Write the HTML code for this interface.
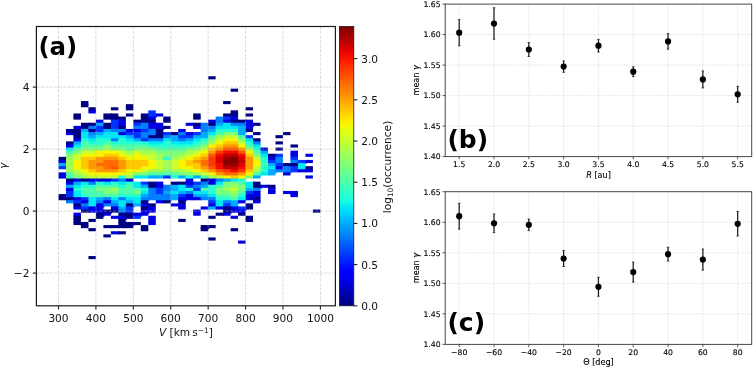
<!DOCTYPE html>
<html><head><meta charset="utf-8"><title>figure</title>
<style>html,body{margin:0;padding:0;background:#fff}body{width:753px;height:368px;overflow:hidden}</style></head>
<body>
<svg width="753" height="368" viewBox="0 0 753 368" style="display:block">
<defs>
<linearGradient id="jet" x1="0" y1="0" x2="0" y2="1"><stop offset="0.000" stop-color="#800000"/><stop offset="0.025" stop-color="#9b0000"/><stop offset="0.050" stop-color="#b60000"/><stop offset="0.075" stop-color="#d60000"/><stop offset="0.100" stop-color="#f10800"/><stop offset="0.125" stop-color="#ff1e00"/><stop offset="0.150" stop-color="#ff3800"/><stop offset="0.175" stop-color="#ff4e00"/><stop offset="0.200" stop-color="#ff6800"/><stop offset="0.225" stop-color="#ff7e00"/><stop offset="0.250" stop-color="#ff9400"/><stop offset="0.275" stop-color="#ffae00"/><stop offset="0.300" stop-color="#ffc400"/><stop offset="0.325" stop-color="#ffde00"/><stop offset="0.350" stop-color="#f8f500"/><stop offset="0.375" stop-color="#e4ff13"/><stop offset="0.400" stop-color="#ceff29"/><stop offset="0.425" stop-color="#baff3c"/><stop offset="0.450" stop-color="#a4ff53"/><stop offset="0.475" stop-color="#90ff66"/><stop offset="0.500" stop-color="#7dff7a"/><stop offset="0.525" stop-color="#66ff90"/><stop offset="0.550" stop-color="#53ffa4"/><stop offset="0.575" stop-color="#3cffba"/><stop offset="0.600" stop-color="#29ffce"/><stop offset="0.625" stop-color="#16ffe1"/><stop offset="0.650" stop-color="#00e4f8"/><stop offset="0.675" stop-color="#00ccff"/><stop offset="0.700" stop-color="#00b0ff"/><stop offset="0.725" stop-color="#0098ff"/><stop offset="0.750" stop-color="#0080ff"/><stop offset="0.775" stop-color="#0064ff"/><stop offset="0.800" stop-color="#004cff"/><stop offset="0.825" stop-color="#0030ff"/><stop offset="0.850" stop-color="#0018ff"/><stop offset="0.875" stop-color="#0000ff"/><stop offset="0.900" stop-color="#0000f1"/><stop offset="0.925" stop-color="#0000d6"/><stop offset="0.950" stop-color="#0000b6"/><stop offset="0.975" stop-color="#00009b"/><stop offset="1.000" stop-color="#000080"/></linearGradient>
<filter id="bl" x="-2%" y="-2%" width="104%" height="104%"><feGaussianBlur stdDeviation="0.45"/></filter>
</defs>
<rect width="753" height="368" fill="#fff"/>
<g filter="url(#bl)">
<rect x="208.16" y="76.25" width="7.48" height="3.10" fill="#000080"/>
<rect x="230.60" y="88.65" width="7.48" height="3.10" fill="#000080"/>
<rect x="80.95" y="101.05" width="7.48" height="4.10" fill="#000080"/>
<rect x="223.12" y="101.05" width="7.48" height="3.10" fill="#000080"/>
<rect x="80.95" y="104.15" width="7.48" height="3.10" fill="#000080"/>
<rect x="125.85" y="104.15" width="7.48" height="4.10" fill="#000080"/>
<rect x="88.43" y="107.25" width="7.48" height="4.10" fill="#000080"/>
<rect x="110.88" y="107.25" width="7.48" height="3.10" fill="#000080"/>
<rect x="125.85" y="107.25" width="7.48" height="3.10" fill="#000080"/>
<rect x="245.57" y="107.25" width="7.48" height="3.10" fill="#000080"/>
<rect x="88.43" y="110.35" width="7.48" height="3.10" fill="#0000e3"/>
<rect x="148.29" y="110.35" width="7.48" height="4.10" fill="#0034ff"/>
<rect x="230.60" y="110.35" width="7.48" height="4.10" fill="#000080"/>
<rect x="73.47" y="113.45" width="7.48" height="4.10" fill="#000080"/>
<rect x="103.40" y="113.45" width="8.48" height="4.10" fill="#000080"/>
<rect x="110.88" y="113.45" width="7.48" height="4.10" fill="#000080"/>
<rect x="125.85" y="113.45" width="7.48" height="3.10" fill="#000080"/>
<rect x="140.81" y="113.45" width="8.48" height="4.10" fill="#000080"/>
<rect x="148.29" y="113.45" width="8.48" height="4.10" fill="#0034ff"/>
<rect x="155.78" y="113.45" width="7.48" height="3.10" fill="#0000e3"/>
<rect x="193.19" y="113.45" width="7.48" height="4.10" fill="#000080"/>
<rect x="223.12" y="113.45" width="8.48" height="4.10" fill="#000080"/>
<rect x="230.60" y="113.45" width="7.48" height="4.10" fill="#000080"/>
<rect x="245.57" y="113.45" width="7.48" height="3.10" fill="#000080"/>
<rect x="73.47" y="116.55" width="7.48" height="3.10" fill="#000080"/>
<rect x="103.40" y="116.55" width="8.48" height="3.10" fill="#000080"/>
<rect x="110.88" y="116.55" width="8.48" height="4.10" fill="#000080"/>
<rect x="118.36" y="116.55" width="7.48" height="4.10" fill="#000080"/>
<rect x="140.81" y="116.55" width="8.48" height="4.10" fill="#000080"/>
<rect x="148.29" y="116.55" width="7.48" height="4.10" fill="#0000e3"/>
<rect x="163.26" y="116.55" width="7.48" height="4.10" fill="#000080"/>
<rect x="193.19" y="116.55" width="7.48" height="3.10" fill="#000080"/>
<rect x="215.64" y="116.55" width="8.48" height="4.10" fill="#0080ff"/>
<rect x="223.12" y="116.55" width="8.48" height="4.10" fill="#0034ff"/>
<rect x="230.60" y="116.55" width="7.48" height="4.10" fill="#0000e3"/>
<rect x="95.91" y="119.65" width="7.48" height="4.10" fill="#0000e3"/>
<rect x="110.88" y="119.65" width="8.48" height="4.10" fill="#0034ff"/>
<rect x="118.36" y="119.65" width="7.48" height="4.10" fill="#0000e3"/>
<rect x="133.33" y="119.65" width="8.48" height="4.10" fill="#000080"/>
<rect x="140.81" y="119.65" width="8.48" height="4.10" fill="#000080"/>
<rect x="148.29" y="119.65" width="7.48" height="4.10" fill="#000080"/>
<rect x="163.26" y="119.65" width="7.48" height="3.10" fill="#000080"/>
<rect x="208.16" y="119.65" width="8.48" height="4.10" fill="#0000e3"/>
<rect x="215.64" y="119.65" width="8.48" height="4.10" fill="#0080ff"/>
<rect x="223.12" y="119.65" width="8.48" height="4.10" fill="#0000e3"/>
<rect x="230.60" y="119.65" width="8.48" height="4.10" fill="#000080"/>
<rect x="238.09" y="119.65" width="8.48" height="4.10" fill="#000080"/>
<rect x="245.57" y="119.65" width="7.48" height="4.10" fill="#0000e3"/>
<rect x="80.95" y="122.75" width="8.48" height="4.10" fill="#000080"/>
<rect x="88.43" y="122.75" width="8.48" height="4.10" fill="#000080"/>
<rect x="95.91" y="122.75" width="8.48" height="4.10" fill="#00acff"/>
<rect x="103.40" y="122.75" width="8.48" height="4.10" fill="#000080"/>
<rect x="110.88" y="122.75" width="8.48" height="4.10" fill="#0034ff"/>
<rect x="118.36" y="122.75" width="7.48" height="4.10" fill="#0000e3"/>
<rect x="133.33" y="122.75" width="8.48" height="4.10" fill="#0034ff"/>
<rect x="140.81" y="122.75" width="8.48" height="4.10" fill="#0080ff"/>
<rect x="148.29" y="122.75" width="8.48" height="4.10" fill="#0000e3"/>
<rect x="155.78" y="122.75" width="7.48" height="4.10" fill="#0000e3"/>
<rect x="185.71" y="122.75" width="8.48" height="3.10" fill="#0000e3"/>
<rect x="193.19" y="122.75" width="8.48" height="4.10" fill="#000080"/>
<rect x="200.67" y="122.75" width="8.48" height="4.10" fill="#0080ff"/>
<rect x="208.16" y="122.75" width="8.48" height="4.10" fill="#000080"/>
<rect x="215.64" y="122.75" width="8.48" height="4.10" fill="#00acff"/>
<rect x="223.12" y="122.75" width="8.48" height="4.10" fill="#02e8f4"/>
<rect x="230.60" y="122.75" width="8.48" height="4.10" fill="#0080ff"/>
<rect x="238.09" y="122.75" width="8.48" height="4.10" fill="#0080ff"/>
<rect x="245.57" y="122.75" width="8.48" height="4.10" fill="#0000e3"/>
<rect x="253.05" y="122.75" width="7.48" height="3.10" fill="#000080"/>
<rect x="73.47" y="125.85" width="8.48" height="4.10" fill="#0000e3"/>
<rect x="80.95" y="125.85" width="8.48" height="4.10" fill="#000080"/>
<rect x="88.43" y="125.85" width="8.48" height="4.10" fill="#0080ff"/>
<rect x="95.91" y="125.85" width="8.48" height="4.10" fill="#0034ff"/>
<rect x="103.40" y="125.85" width="8.48" height="4.10" fill="#000080"/>
<rect x="110.88" y="125.85" width="8.48" height="4.10" fill="#0034ff"/>
<rect x="118.36" y="125.85" width="7.48" height="4.10" fill="#000080"/>
<rect x="133.33" y="125.85" width="8.48" height="4.10" fill="#0080ff"/>
<rect x="140.81" y="125.85" width="8.48" height="4.10" fill="#0080ff"/>
<rect x="148.29" y="125.85" width="8.48" height="4.10" fill="#0000e3"/>
<rect x="155.78" y="125.85" width="8.48" height="4.10" fill="#0000e3"/>
<rect x="163.26" y="125.85" width="7.48" height="3.10" fill="#000080"/>
<rect x="193.19" y="125.85" width="8.48" height="3.10" fill="#0000e3"/>
<rect x="200.67" y="125.85" width="8.48" height="4.10" fill="#0080ff"/>
<rect x="208.16" y="125.85" width="8.48" height="4.10" fill="#0080ff"/>
<rect x="215.64" y="125.85" width="8.48" height="4.10" fill="#02e8f4"/>
<rect x="223.12" y="125.85" width="8.48" height="4.10" fill="#02e8f4"/>
<rect x="230.60" y="125.85" width="8.48" height="4.10" fill="#02e8f4"/>
<rect x="238.09" y="125.85" width="8.48" height="4.10" fill="#00acff"/>
<rect x="245.57" y="125.85" width="7.48" height="4.10" fill="#0000e3"/>
<rect x="65.98" y="128.95" width="8.48" height="4.10" fill="#000080"/>
<rect x="73.47" y="128.95" width="8.48" height="4.10" fill="#000080"/>
<rect x="80.95" y="128.95" width="8.48" height="4.10" fill="#00acff"/>
<rect x="88.43" y="128.95" width="8.48" height="4.10" fill="#000080"/>
<rect x="95.91" y="128.95" width="8.48" height="4.10" fill="#0034ff"/>
<rect x="103.40" y="128.95" width="8.48" height="4.10" fill="#00acff"/>
<rect x="110.88" y="128.95" width="8.48" height="4.10" fill="#0080ff"/>
<rect x="118.36" y="128.95" width="8.48" height="4.10" fill="#0080ff"/>
<rect x="125.85" y="128.95" width="8.48" height="4.10" fill="#0000e3"/>
<rect x="133.33" y="128.95" width="8.48" height="4.10" fill="#0000e3"/>
<rect x="140.81" y="128.95" width="8.48" height="4.10" fill="#0034ff"/>
<rect x="148.29" y="128.95" width="8.48" height="4.10" fill="#0080ff"/>
<rect x="155.78" y="128.95" width="7.48" height="4.10" fill="#000080"/>
<rect x="178.22" y="128.95" width="7.48" height="4.10" fill="#0000e3"/>
<rect x="200.67" y="128.95" width="8.48" height="4.10" fill="#0080ff"/>
<rect x="208.16" y="128.95" width="8.48" height="4.10" fill="#00acff"/>
<rect x="215.64" y="128.95" width="8.48" height="4.10" fill="#26ffd1"/>
<rect x="223.12" y="128.95" width="8.48" height="4.10" fill="#26ffd1"/>
<rect x="230.60" y="128.95" width="8.48" height="4.10" fill="#26ffd1"/>
<rect x="238.09" y="128.95" width="8.48" height="4.10" fill="#00acff"/>
<rect x="245.57" y="128.95" width="7.48" height="3.10" fill="#000080"/>
<rect x="65.98" y="132.05" width="8.48" height="3.10" fill="#0000e3"/>
<rect x="73.47" y="132.05" width="8.48" height="4.10" fill="#000080"/>
<rect x="80.95" y="132.05" width="8.48" height="4.10" fill="#02e8f4"/>
<rect x="88.43" y="132.05" width="8.48" height="4.10" fill="#0080ff"/>
<rect x="95.91" y="132.05" width="8.48" height="4.10" fill="#00acff"/>
<rect x="103.40" y="132.05" width="8.48" height="4.10" fill="#02e8f4"/>
<rect x="110.88" y="132.05" width="8.48" height="4.10" fill="#02e8f4"/>
<rect x="118.36" y="132.05" width="8.48" height="4.10" fill="#0000e3"/>
<rect x="125.85" y="132.05" width="8.48" height="4.10" fill="#0034ff"/>
<rect x="133.33" y="132.05" width="8.48" height="4.10" fill="#0034ff"/>
<rect x="140.81" y="132.05" width="8.48" height="4.10" fill="#0080ff"/>
<rect x="148.29" y="132.05" width="8.48" height="4.10" fill="#0080ff"/>
<rect x="155.78" y="132.05" width="8.48" height="4.10" fill="#000080"/>
<rect x="163.26" y="132.05" width="8.48" height="4.10" fill="#0034ff"/>
<rect x="170.74" y="132.05" width="8.48" height="4.10" fill="#000080"/>
<rect x="178.22" y="132.05" width="8.48" height="4.10" fill="#0080ff"/>
<rect x="185.71" y="132.05" width="8.48" height="4.10" fill="#0000e3"/>
<rect x="193.19" y="132.05" width="8.48" height="4.10" fill="#0034ff"/>
<rect x="200.67" y="132.05" width="8.48" height="4.10" fill="#00acff"/>
<rect x="208.16" y="132.05" width="8.48" height="4.10" fill="#02e8f4"/>
<rect x="215.64" y="132.05" width="8.48" height="4.10" fill="#4dffaa"/>
<rect x="223.12" y="132.05" width="8.48" height="4.10" fill="#7dff7a"/>
<rect x="230.60" y="132.05" width="8.48" height="4.10" fill="#7dff7a"/>
<rect x="238.09" y="132.05" width="7.48" height="4.10" fill="#00acff"/>
<rect x="253.05" y="132.05" width="7.48" height="3.10" fill="#000080"/>
<rect x="282.98" y="132.05" width="7.48" height="3.10" fill="#000080"/>
<rect x="73.47" y="135.15" width="8.48" height="4.10" fill="#000080"/>
<rect x="80.95" y="135.15" width="8.48" height="4.10" fill="#02e8f4"/>
<rect x="88.43" y="135.15" width="8.48" height="4.10" fill="#00acff"/>
<rect x="95.91" y="135.15" width="8.48" height="4.10" fill="#02e8f4"/>
<rect x="103.40" y="135.15" width="8.48" height="4.10" fill="#02e8f4"/>
<rect x="110.88" y="135.15" width="8.48" height="4.10" fill="#02e8f4"/>
<rect x="118.36" y="135.15" width="8.48" height="4.10" fill="#02e8f4"/>
<rect x="125.85" y="135.15" width="8.48" height="4.10" fill="#00acff"/>
<rect x="133.33" y="135.15" width="8.48" height="4.10" fill="#0034ff"/>
<rect x="140.81" y="135.15" width="8.48" height="4.10" fill="#0080ff"/>
<rect x="148.29" y="135.15" width="8.48" height="4.10" fill="#000080"/>
<rect x="155.78" y="135.15" width="8.48" height="4.10" fill="#000080"/>
<rect x="163.26" y="135.15" width="8.48" height="4.10" fill="#0080ff"/>
<rect x="170.74" y="135.15" width="8.48" height="4.10" fill="#00acff"/>
<rect x="178.22" y="135.15" width="8.48" height="4.10" fill="#0034ff"/>
<rect x="185.71" y="135.15" width="8.48" height="4.10" fill="#0034ff"/>
<rect x="193.19" y="135.15" width="8.48" height="4.10" fill="#00acff"/>
<rect x="200.67" y="135.15" width="8.48" height="4.10" fill="#00acff"/>
<rect x="208.16" y="135.15" width="8.48" height="4.10" fill="#4dffaa"/>
<rect x="215.64" y="135.15" width="8.48" height="4.10" fill="#a0ff56"/>
<rect x="223.12" y="135.15" width="8.48" height="4.10" fill="#c7ff30"/>
<rect x="230.60" y="135.15" width="8.48" height="4.10" fill="#c7ff30"/>
<rect x="238.09" y="135.15" width="8.48" height="4.10" fill="#4dffaa"/>
<rect x="245.57" y="135.15" width="7.48" height="4.10" fill="#0034ff"/>
<rect x="275.50" y="135.15" width="7.48" height="3.10" fill="#000080"/>
<rect x="73.47" y="138.25" width="8.48" height="4.10" fill="#0000e3"/>
<rect x="80.95" y="138.25" width="8.48" height="4.10" fill="#26ffd1"/>
<rect x="88.43" y="138.25" width="8.48" height="4.10" fill="#02e8f4"/>
<rect x="95.91" y="138.25" width="8.48" height="4.10" fill="#26ffd1"/>
<rect x="103.40" y="138.25" width="8.48" height="4.10" fill="#26ffd1"/>
<rect x="110.88" y="138.25" width="8.48" height="4.10" fill="#0080ff"/>
<rect x="118.36" y="138.25" width="8.48" height="4.10" fill="#26ffd1"/>
<rect x="125.85" y="138.25" width="8.48" height="4.10" fill="#02e8f4"/>
<rect x="133.33" y="138.25" width="8.48" height="4.10" fill="#00acff"/>
<rect x="140.81" y="138.25" width="8.48" height="4.10" fill="#0034ff"/>
<rect x="148.29" y="138.25" width="8.48" height="4.10" fill="#0080ff"/>
<rect x="155.78" y="138.25" width="8.48" height="4.10" fill="#0080ff"/>
<rect x="163.26" y="138.25" width="8.48" height="4.10" fill="#02e8f4"/>
<rect x="170.74" y="138.25" width="8.48" height="4.10" fill="#00acff"/>
<rect x="178.22" y="138.25" width="8.48" height="4.10" fill="#0080ff"/>
<rect x="185.71" y="138.25" width="8.48" height="4.10" fill="#00acff"/>
<rect x="193.19" y="138.25" width="8.48" height="4.10" fill="#02e8f4"/>
<rect x="200.67" y="138.25" width="8.48" height="4.10" fill="#26ffd1"/>
<rect x="208.16" y="138.25" width="8.48" height="4.10" fill="#7dff7a"/>
<rect x="215.64" y="138.25" width="8.48" height="4.10" fill="#c7ff30"/>
<rect x="223.12" y="138.25" width="8.48" height="4.10" fill="#f8f500"/>
<rect x="230.60" y="138.25" width="8.48" height="4.10" fill="#f8f500"/>
<rect x="238.09" y="138.25" width="8.48" height="4.10" fill="#7dff7a"/>
<rect x="245.57" y="138.25" width="8.48" height="4.10" fill="#02e8f4"/>
<rect x="253.05" y="138.25" width="7.48" height="4.10" fill="#000080"/>
<rect x="65.98" y="141.35" width="8.48" height="4.10" fill="#000080"/>
<rect x="73.47" y="141.35" width="8.48" height="4.10" fill="#00acff"/>
<rect x="80.95" y="141.35" width="8.48" height="4.10" fill="#4dffaa"/>
<rect x="88.43" y="141.35" width="8.48" height="4.10" fill="#26ffd1"/>
<rect x="95.91" y="141.35" width="8.48" height="4.10" fill="#26ffd1"/>
<rect x="103.40" y="141.35" width="8.48" height="4.10" fill="#4dffaa"/>
<rect x="110.88" y="141.35" width="8.48" height="4.10" fill="#26ffd1"/>
<rect x="118.36" y="141.35" width="8.48" height="4.10" fill="#26ffd1"/>
<rect x="125.85" y="141.35" width="8.48" height="4.10" fill="#26ffd1"/>
<rect x="133.33" y="141.35" width="8.48" height="4.10" fill="#26ffd1"/>
<rect x="140.81" y="141.35" width="8.48" height="4.10" fill="#26ffd1"/>
<rect x="148.29" y="141.35" width="8.48" height="4.10" fill="#02e8f4"/>
<rect x="155.78" y="141.35" width="8.48" height="4.10" fill="#02e8f4"/>
<rect x="163.26" y="141.35" width="8.48" height="4.10" fill="#26ffd1"/>
<rect x="170.74" y="141.35" width="8.48" height="4.10" fill="#02e8f4"/>
<rect x="178.22" y="141.35" width="8.48" height="4.10" fill="#02e8f4"/>
<rect x="185.71" y="141.35" width="8.48" height="4.10" fill="#02e8f4"/>
<rect x="193.19" y="141.35" width="8.48" height="4.10" fill="#26ffd1"/>
<rect x="200.67" y="141.35" width="8.48" height="4.10" fill="#4dffaa"/>
<rect x="208.16" y="141.35" width="8.48" height="4.10" fill="#a0ff56"/>
<rect x="215.64" y="141.35" width="8.48" height="4.10" fill="#f8f500"/>
<rect x="223.12" y="141.35" width="8.48" height="4.10" fill="#ffc800"/>
<rect x="230.60" y="141.35" width="8.48" height="4.10" fill="#ffc800"/>
<rect x="238.09" y="141.35" width="8.48" height="4.10" fill="#c7ff30"/>
<rect x="245.57" y="141.35" width="8.48" height="4.10" fill="#26ffd1"/>
<rect x="253.05" y="141.35" width="7.48" height="4.10" fill="#0080ff"/>
<rect x="275.50" y="141.35" width="7.48" height="3.10" fill="#000080"/>
<rect x="65.98" y="144.45" width="8.48" height="4.10" fill="#0000e3"/>
<rect x="73.47" y="144.45" width="8.48" height="4.10" fill="#02e8f4"/>
<rect x="80.95" y="144.45" width="8.48" height="4.10" fill="#4dffaa"/>
<rect x="88.43" y="144.45" width="8.48" height="4.10" fill="#4dffaa"/>
<rect x="95.91" y="144.45" width="8.48" height="4.10" fill="#4dffaa"/>
<rect x="103.40" y="144.45" width="8.48" height="4.10" fill="#7dff7a"/>
<rect x="110.88" y="144.45" width="8.48" height="4.10" fill="#4dffaa"/>
<rect x="118.36" y="144.45" width="8.48" height="4.10" fill="#4dffaa"/>
<rect x="125.85" y="144.45" width="8.48" height="4.10" fill="#4dffaa"/>
<rect x="133.33" y="144.45" width="8.48" height="4.10" fill="#4dffaa"/>
<rect x="140.81" y="144.45" width="8.48" height="4.10" fill="#4dffaa"/>
<rect x="148.29" y="144.45" width="8.48" height="4.10" fill="#26ffd1"/>
<rect x="155.78" y="144.45" width="8.48" height="4.10" fill="#26ffd1"/>
<rect x="163.26" y="144.45" width="8.48" height="4.10" fill="#26ffd1"/>
<rect x="170.74" y="144.45" width="8.48" height="4.10" fill="#26ffd1"/>
<rect x="178.22" y="144.45" width="8.48" height="4.10" fill="#26ffd1"/>
<rect x="185.71" y="144.45" width="8.48" height="4.10" fill="#26ffd1"/>
<rect x="193.19" y="144.45" width="8.48" height="4.10" fill="#4dffaa"/>
<rect x="200.67" y="144.45" width="8.48" height="4.10" fill="#7dff7a"/>
<rect x="208.16" y="144.45" width="8.48" height="4.10" fill="#f8f500"/>
<rect x="215.64" y="144.45" width="8.48" height="4.10" fill="#ffc800"/>
<rect x="223.12" y="144.45" width="8.48" height="4.10" fill="#ff9800"/>
<rect x="230.60" y="144.45" width="8.48" height="4.10" fill="#ff9800"/>
<rect x="238.09" y="144.45" width="8.48" height="4.10" fill="#f8f500"/>
<rect x="245.57" y="144.45" width="8.48" height="4.10" fill="#4dffaa"/>
<rect x="253.05" y="144.45" width="7.48" height="4.10" fill="#02e8f4"/>
<rect x="290.47" y="144.45" width="7.48" height="3.10" fill="#000080"/>
<rect x="65.98" y="147.55" width="8.48" height="4.10" fill="#02e8f4"/>
<rect x="73.47" y="147.55" width="8.48" height="4.10" fill="#4dffaa"/>
<rect x="80.95" y="147.55" width="8.48" height="4.10" fill="#7dff7a"/>
<rect x="88.43" y="147.55" width="8.48" height="4.10" fill="#7dff7a"/>
<rect x="95.91" y="147.55" width="8.48" height="4.10" fill="#7dff7a"/>
<rect x="103.40" y="147.55" width="8.48" height="4.10" fill="#a0ff56"/>
<rect x="110.88" y="147.55" width="8.48" height="4.10" fill="#7dff7a"/>
<rect x="118.36" y="147.55" width="8.48" height="4.10" fill="#7dff7a"/>
<rect x="125.85" y="147.55" width="8.48" height="4.10" fill="#4dffaa"/>
<rect x="133.33" y="147.55" width="8.48" height="4.10" fill="#7dff7a"/>
<rect x="140.81" y="147.55" width="8.48" height="4.10" fill="#7dff7a"/>
<rect x="148.29" y="147.55" width="8.48" height="4.10" fill="#7dff7a"/>
<rect x="155.78" y="147.55" width="8.48" height="4.10" fill="#4dffaa"/>
<rect x="163.26" y="147.55" width="8.48" height="4.10" fill="#4dffaa"/>
<rect x="170.74" y="147.55" width="8.48" height="4.10" fill="#4dffaa"/>
<rect x="178.22" y="147.55" width="8.48" height="4.10" fill="#4dffaa"/>
<rect x="185.71" y="147.55" width="8.48" height="4.10" fill="#7dff7a"/>
<rect x="193.19" y="147.55" width="8.48" height="4.10" fill="#7dff7a"/>
<rect x="200.67" y="147.55" width="8.48" height="4.10" fill="#c7ff30"/>
<rect x="208.16" y="147.55" width="8.48" height="4.10" fill="#ffc800"/>
<rect x="215.64" y="147.55" width="8.48" height="4.10" fill="#ff9800"/>
<rect x="223.12" y="147.55" width="8.48" height="4.10" fill="#ff5200"/>
<rect x="230.60" y="147.55" width="8.48" height="4.10" fill="#ff5200"/>
<rect x="238.09" y="147.55" width="8.48" height="4.10" fill="#ff9800"/>
<rect x="245.57" y="147.55" width="8.48" height="4.10" fill="#a0ff56"/>
<rect x="253.05" y="147.55" width="8.48" height="4.10" fill="#26ffd1"/>
<rect x="260.54" y="147.55" width="7.48" height="4.10" fill="#0000e3"/>
<rect x="275.50" y="147.55" width="7.48" height="3.10" fill="#000080"/>
<rect x="65.98" y="150.65" width="8.48" height="4.10" fill="#4dffaa"/>
<rect x="73.47" y="150.65" width="8.48" height="4.10" fill="#7dff7a"/>
<rect x="80.95" y="150.65" width="8.48" height="4.10" fill="#c7ff30"/>
<rect x="88.43" y="150.65" width="8.48" height="4.10" fill="#c7ff30"/>
<rect x="95.91" y="150.65" width="8.48" height="4.10" fill="#f8f500"/>
<rect x="103.40" y="150.65" width="8.48" height="4.10" fill="#f8f500"/>
<rect x="110.88" y="150.65" width="8.48" height="4.10" fill="#f8f500"/>
<rect x="118.36" y="150.65" width="8.48" height="4.10" fill="#c7ff30"/>
<rect x="125.85" y="150.65" width="8.48" height="4.10" fill="#a0ff56"/>
<rect x="133.33" y="150.65" width="8.48" height="4.10" fill="#c7ff30"/>
<rect x="140.81" y="150.65" width="8.48" height="4.10" fill="#a0ff56"/>
<rect x="148.29" y="150.65" width="8.48" height="4.10" fill="#a0ff56"/>
<rect x="155.78" y="150.65" width="8.48" height="4.10" fill="#7dff7a"/>
<rect x="163.26" y="150.65" width="8.48" height="4.10" fill="#7dff7a"/>
<rect x="170.74" y="150.65" width="8.48" height="4.10" fill="#7dff7a"/>
<rect x="178.22" y="150.65" width="8.48" height="4.10" fill="#7dff7a"/>
<rect x="185.71" y="150.65" width="8.48" height="4.10" fill="#a0ff56"/>
<rect x="193.19" y="150.65" width="8.48" height="4.10" fill="#c7ff30"/>
<rect x="200.67" y="150.65" width="8.48" height="4.10" fill="#f8f500"/>
<rect x="208.16" y="150.65" width="8.48" height="4.10" fill="#ff9800"/>
<rect x="215.64" y="150.65" width="8.48" height="4.10" fill="#ff3800"/>
<rect x="223.12" y="150.65" width="8.48" height="4.10" fill="#f10800"/>
<rect x="230.60" y="150.65" width="8.48" height="4.10" fill="#f10800"/>
<rect x="238.09" y="150.65" width="8.48" height="4.10" fill="#ff5200"/>
<rect x="245.57" y="150.65" width="8.48" height="4.10" fill="#f8f500"/>
<rect x="253.05" y="150.65" width="8.48" height="4.10" fill="#4dffaa"/>
<rect x="260.54" y="150.65" width="7.48" height="4.10" fill="#00acff"/>
<rect x="290.47" y="150.65" width="7.48" height="4.10" fill="#0000e3"/>
<rect x="65.98" y="153.75" width="8.48" height="4.10" fill="#7dff7a"/>
<rect x="73.47" y="153.75" width="8.48" height="4.10" fill="#c7ff30"/>
<rect x="80.95" y="153.75" width="8.48" height="4.10" fill="#f8f500"/>
<rect x="88.43" y="153.75" width="8.48" height="4.10" fill="#f8f500"/>
<rect x="95.91" y="153.75" width="8.48" height="4.10" fill="#f8f500"/>
<rect x="103.40" y="153.75" width="8.48" height="4.10" fill="#ffc800"/>
<rect x="110.88" y="153.75" width="8.48" height="4.10" fill="#ffc800"/>
<rect x="118.36" y="153.75" width="8.48" height="4.10" fill="#f8f500"/>
<rect x="125.85" y="153.75" width="8.48" height="4.10" fill="#c7ff30"/>
<rect x="133.33" y="153.75" width="8.48" height="4.10" fill="#f8f500"/>
<rect x="140.81" y="153.75" width="8.48" height="4.10" fill="#c7ff30"/>
<rect x="148.29" y="153.75" width="8.48" height="4.10" fill="#c7ff30"/>
<rect x="155.78" y="153.75" width="8.48" height="4.10" fill="#a0ff56"/>
<rect x="163.26" y="153.75" width="8.48" height="4.10" fill="#7dff7a"/>
<rect x="170.74" y="153.75" width="8.48" height="4.10" fill="#7dff7a"/>
<rect x="178.22" y="153.75" width="8.48" height="4.10" fill="#a0ff56"/>
<rect x="185.71" y="153.75" width="8.48" height="4.10" fill="#c7ff30"/>
<rect x="193.19" y="153.75" width="8.48" height="4.10" fill="#f8f500"/>
<rect x="200.67" y="153.75" width="8.48" height="4.10" fill="#ffc800"/>
<rect x="208.16" y="153.75" width="8.48" height="4.10" fill="#ff5200"/>
<rect x="215.64" y="153.75" width="8.48" height="4.10" fill="#f10800"/>
<rect x="223.12" y="153.75" width="8.48" height="4.10" fill="#bf0000"/>
<rect x="230.60" y="153.75" width="8.48" height="4.10" fill="#bf0000"/>
<rect x="238.09" y="153.75" width="8.48" height="4.10" fill="#f10800"/>
<rect x="245.57" y="153.75" width="8.48" height="4.10" fill="#ffc800"/>
<rect x="253.05" y="153.75" width="8.48" height="4.10" fill="#7dff7a"/>
<rect x="260.54" y="153.75" width="8.48" height="4.10" fill="#02e8f4"/>
<rect x="268.02" y="153.75" width="8.48" height="4.10" fill="#000080"/>
<rect x="275.50" y="153.75" width="7.48" height="4.10" fill="#0034ff"/>
<rect x="290.47" y="153.75" width="7.48" height="4.10" fill="#0000e3"/>
<rect x="305.43" y="153.75" width="7.48" height="3.10" fill="#0000e3"/>
<rect x="58.50" y="156.85" width="8.48" height="4.10" fill="#000080"/>
<rect x="65.98" y="156.85" width="8.48" height="4.10" fill="#a0ff56"/>
<rect x="73.47" y="156.85" width="8.48" height="4.10" fill="#c7ff30"/>
<rect x="80.95" y="156.85" width="8.48" height="4.10" fill="#ffc800"/>
<rect x="88.43" y="156.85" width="8.48" height="4.10" fill="#ffc800"/>
<rect x="95.91" y="156.85" width="8.48" height="4.10" fill="#ff9800"/>
<rect x="103.40" y="156.85" width="8.48" height="4.10" fill="#ff9800"/>
<rect x="110.88" y="156.85" width="8.48" height="4.10" fill="#ff9800"/>
<rect x="118.36" y="156.85" width="8.48" height="4.10" fill="#ffc800"/>
<rect x="125.85" y="156.85" width="8.48" height="4.10" fill="#f8f500"/>
<rect x="133.33" y="156.85" width="8.48" height="4.10" fill="#f8f500"/>
<rect x="140.81" y="156.85" width="8.48" height="4.10" fill="#f8f500"/>
<rect x="148.29" y="156.85" width="8.48" height="4.10" fill="#c7ff30"/>
<rect x="155.78" y="156.85" width="8.48" height="4.10" fill="#a0ff56"/>
<rect x="163.26" y="156.85" width="8.48" height="4.10" fill="#26ffd1"/>
<rect x="170.74" y="156.85" width="8.48" height="4.10" fill="#a0ff56"/>
<rect x="178.22" y="156.85" width="8.48" height="4.10" fill="#c7ff30"/>
<rect x="185.71" y="156.85" width="8.48" height="4.10" fill="#f8f500"/>
<rect x="193.19" y="156.85" width="8.48" height="4.10" fill="#ffc800"/>
<rect x="200.67" y="156.85" width="8.48" height="4.10" fill="#ff9800"/>
<rect x="208.16" y="156.85" width="8.48" height="4.10" fill="#ff3800"/>
<rect x="215.64" y="156.85" width="8.48" height="4.10" fill="#da0000"/>
<rect x="223.12" y="156.85" width="8.48" height="4.10" fill="#9b0000"/>
<rect x="230.60" y="156.85" width="8.48" height="4.10" fill="#800000"/>
<rect x="238.09" y="156.85" width="8.48" height="4.10" fill="#da0000"/>
<rect x="245.57" y="156.85" width="8.48" height="4.10" fill="#ff9800"/>
<rect x="253.05" y="156.85" width="8.48" height="4.10" fill="#c7ff30"/>
<rect x="260.54" y="156.85" width="8.48" height="4.10" fill="#26ffd1"/>
<rect x="268.02" y="156.85" width="8.48" height="4.10" fill="#0000e3"/>
<rect x="275.50" y="156.85" width="7.48" height="4.10" fill="#0080ff"/>
<rect x="290.47" y="156.85" width="7.48" height="4.10" fill="#0034ff"/>
<rect x="58.50" y="159.95" width="8.48" height="4.10" fill="#0000e3"/>
<rect x="65.98" y="159.95" width="8.48" height="4.10" fill="#a0ff56"/>
<rect x="73.47" y="159.95" width="8.48" height="4.10" fill="#f8f500"/>
<rect x="80.95" y="159.95" width="8.48" height="4.10" fill="#ffc800"/>
<rect x="88.43" y="159.95" width="8.48" height="4.10" fill="#ff9800"/>
<rect x="95.91" y="159.95" width="8.48" height="4.10" fill="#ff9800"/>
<rect x="103.40" y="159.95" width="8.48" height="4.10" fill="#ff6c00"/>
<rect x="110.88" y="159.95" width="8.48" height="4.10" fill="#ff6c00"/>
<rect x="118.36" y="159.95" width="8.48" height="4.10" fill="#ff9800"/>
<rect x="125.85" y="159.95" width="8.48" height="4.10" fill="#ffc800"/>
<rect x="133.33" y="159.95" width="8.48" height="4.10" fill="#ffc800"/>
<rect x="140.81" y="159.95" width="8.48" height="4.10" fill="#ffc800"/>
<rect x="148.29" y="159.95" width="8.48" height="4.10" fill="#f8f500"/>
<rect x="155.78" y="159.95" width="8.48" height="4.10" fill="#c7ff30"/>
<rect x="163.26" y="159.95" width="8.48" height="4.10" fill="#a0ff56"/>
<rect x="170.74" y="159.95" width="8.48" height="4.10" fill="#c7ff30"/>
<rect x="178.22" y="159.95" width="8.48" height="4.10" fill="#f8f500"/>
<rect x="185.71" y="159.95" width="8.48" height="4.10" fill="#ffc800"/>
<rect x="193.19" y="159.95" width="8.48" height="4.10" fill="#ff9800"/>
<rect x="200.67" y="159.95" width="8.48" height="4.10" fill="#ff6c00"/>
<rect x="208.16" y="159.95" width="8.48" height="4.10" fill="#ff3800"/>
<rect x="215.64" y="159.95" width="8.48" height="4.10" fill="#da0000"/>
<rect x="223.12" y="159.95" width="8.48" height="4.10" fill="#800000"/>
<rect x="230.60" y="159.95" width="8.48" height="4.10" fill="#800000"/>
<rect x="238.09" y="159.95" width="8.48" height="4.10" fill="#bf0000"/>
<rect x="245.57" y="159.95" width="8.48" height="4.10" fill="#ff9800"/>
<rect x="253.05" y="159.95" width="8.48" height="4.10" fill="#f8f500"/>
<rect x="260.54" y="159.95" width="8.48" height="4.10" fill="#26ffd1"/>
<rect x="268.02" y="159.95" width="8.48" height="4.10" fill="#0034ff"/>
<rect x="275.50" y="159.95" width="7.48" height="4.10" fill="#0080ff"/>
<rect x="290.47" y="159.95" width="8.48" height="4.10" fill="#0080ff"/>
<rect x="297.95" y="159.95" width="8.48" height="4.10" fill="#0034ff"/>
<rect x="305.43" y="159.95" width="7.48" height="3.10" fill="#0000e3"/>
<rect x="58.50" y="163.05" width="8.48" height="4.10" fill="#00acff"/>
<rect x="65.98" y="163.05" width="8.48" height="4.10" fill="#a0ff56"/>
<rect x="73.47" y="163.05" width="8.48" height="4.10" fill="#f8f500"/>
<rect x="80.95" y="163.05" width="8.48" height="4.10" fill="#ffc800"/>
<rect x="88.43" y="163.05" width="8.48" height="4.10" fill="#ff9800"/>
<rect x="95.91" y="163.05" width="8.48" height="4.10" fill="#ff6c00"/>
<rect x="103.40" y="163.05" width="8.48" height="4.10" fill="#ff6c00"/>
<rect x="110.88" y="163.05" width="8.48" height="4.10" fill="#ff6c00"/>
<rect x="118.36" y="163.05" width="8.48" height="4.10" fill="#ff9800"/>
<rect x="125.85" y="163.05" width="8.48" height="4.10" fill="#ffc800"/>
<rect x="133.33" y="163.05" width="8.48" height="4.10" fill="#ffc800"/>
<rect x="140.81" y="163.05" width="8.48" height="4.10" fill="#ffc800"/>
<rect x="148.29" y="163.05" width="8.48" height="4.10" fill="#f8f500"/>
<rect x="155.78" y="163.05" width="8.48" height="4.10" fill="#c7ff30"/>
<rect x="163.26" y="163.05" width="8.48" height="4.10" fill="#a0ff56"/>
<rect x="170.74" y="163.05" width="8.48" height="4.10" fill="#c7ff30"/>
<rect x="178.22" y="163.05" width="8.48" height="4.10" fill="#f8f500"/>
<rect x="185.71" y="163.05" width="8.48" height="4.10" fill="#ffc800"/>
<rect x="193.19" y="163.05" width="8.48" height="4.10" fill="#ffc800"/>
<rect x="200.67" y="163.05" width="8.48" height="4.10" fill="#ff6c00"/>
<rect x="208.16" y="163.05" width="8.48" height="4.10" fill="#ff3800"/>
<rect x="215.64" y="163.05" width="8.48" height="4.10" fill="#f10800"/>
<rect x="223.12" y="163.05" width="8.48" height="4.10" fill="#9b0000"/>
<rect x="230.60" y="163.05" width="8.48" height="4.10" fill="#9b0000"/>
<rect x="238.09" y="163.05" width="8.48" height="4.10" fill="#da0000"/>
<rect x="245.57" y="163.05" width="8.48" height="4.10" fill="#ff9800"/>
<rect x="253.05" y="163.05" width="8.48" height="4.10" fill="#f8f500"/>
<rect x="260.54" y="163.05" width="8.48" height="4.10" fill="#4dffaa"/>
<rect x="268.02" y="163.05" width="8.48" height="4.10" fill="#00acff"/>
<rect x="275.50" y="163.05" width="8.48" height="4.10" fill="#0034ff"/>
<rect x="282.98" y="163.05" width="8.48" height="4.10" fill="#000080"/>
<rect x="290.47" y="163.05" width="8.48" height="4.10" fill="#000080"/>
<rect x="297.95" y="163.05" width="7.48" height="4.10" fill="#02e8f4"/>
<rect x="58.50" y="166.15" width="8.48" height="3.10" fill="#0034ff"/>
<rect x="65.98" y="166.15" width="8.48" height="4.10" fill="#a0ff56"/>
<rect x="73.47" y="166.15" width="8.48" height="4.10" fill="#f8f500"/>
<rect x="80.95" y="166.15" width="8.48" height="4.10" fill="#ffc800"/>
<rect x="88.43" y="166.15" width="8.48" height="4.10" fill="#ff9800"/>
<rect x="95.91" y="166.15" width="8.48" height="4.10" fill="#ff9800"/>
<rect x="103.40" y="166.15" width="8.48" height="4.10" fill="#ff6c00"/>
<rect x="110.88" y="166.15" width="8.48" height="4.10" fill="#ff5200"/>
<rect x="118.36" y="166.15" width="8.48" height="4.10" fill="#ff9800"/>
<rect x="125.85" y="166.15" width="8.48" height="4.10" fill="#ffc800"/>
<rect x="133.33" y="166.15" width="8.48" height="4.10" fill="#ffc800"/>
<rect x="140.81" y="166.15" width="8.48" height="4.10" fill="#f8f500"/>
<rect x="148.29" y="166.15" width="8.48" height="4.10" fill="#f8f500"/>
<rect x="155.78" y="166.15" width="8.48" height="4.10" fill="#c7ff30"/>
<rect x="163.26" y="166.15" width="8.48" height="4.10" fill="#a0ff56"/>
<rect x="170.74" y="166.15" width="8.48" height="4.10" fill="#c7ff30"/>
<rect x="178.22" y="166.15" width="8.48" height="4.10" fill="#f8f500"/>
<rect x="185.71" y="166.15" width="8.48" height="4.10" fill="#f8f500"/>
<rect x="193.19" y="166.15" width="8.48" height="4.10" fill="#ffc800"/>
<rect x="200.67" y="166.15" width="8.48" height="4.10" fill="#ff9800"/>
<rect x="208.16" y="166.15" width="8.48" height="4.10" fill="#ff5200"/>
<rect x="215.64" y="166.15" width="8.48" height="4.10" fill="#f10800"/>
<rect x="223.12" y="166.15" width="8.48" height="4.10" fill="#bf0000"/>
<rect x="230.60" y="166.15" width="8.48" height="4.10" fill="#bf0000"/>
<rect x="238.09" y="166.15" width="8.48" height="4.10" fill="#f10800"/>
<rect x="245.57" y="166.15" width="8.48" height="4.10" fill="#ff9800"/>
<rect x="253.05" y="166.15" width="8.48" height="4.10" fill="#c7ff30"/>
<rect x="260.54" y="166.15" width="8.48" height="4.10" fill="#26ffd1"/>
<rect x="268.02" y="166.15" width="8.48" height="4.10" fill="#02e8f4"/>
<rect x="275.50" y="166.15" width="8.48" height="4.10" fill="#0000e3"/>
<rect x="282.98" y="166.15" width="8.48" height="4.10" fill="#0080ff"/>
<rect x="290.47" y="166.15" width="8.48" height="4.10" fill="#0034ff"/>
<rect x="297.95" y="166.15" width="8.48" height="4.10" fill="#02e8f4"/>
<rect x="305.43" y="166.15" width="7.48" height="4.10" fill="#000080"/>
<rect x="65.98" y="169.25" width="8.48" height="4.10" fill="#a0ff56"/>
<rect x="73.47" y="169.25" width="8.48" height="4.10" fill="#c7ff30"/>
<rect x="80.95" y="169.25" width="8.48" height="4.10" fill="#f8f500"/>
<rect x="88.43" y="169.25" width="8.48" height="4.10" fill="#ffc800"/>
<rect x="95.91" y="169.25" width="8.48" height="4.10" fill="#ff9800"/>
<rect x="103.40" y="169.25" width="8.48" height="4.10" fill="#ff9800"/>
<rect x="110.88" y="169.25" width="8.48" height="4.10" fill="#ff9800"/>
<rect x="118.36" y="169.25" width="8.48" height="4.10" fill="#ffc800"/>
<rect x="125.85" y="169.25" width="8.48" height="4.10" fill="#f8f500"/>
<rect x="133.33" y="169.25" width="8.48" height="4.10" fill="#f8f500"/>
<rect x="140.81" y="169.25" width="8.48" height="4.10" fill="#c7ff30"/>
<rect x="148.29" y="169.25" width="8.48" height="4.10" fill="#a0ff56"/>
<rect x="155.78" y="169.25" width="8.48" height="4.10" fill="#a0ff56"/>
<rect x="163.26" y="169.25" width="8.48" height="4.10" fill="#7dff7a"/>
<rect x="170.74" y="169.25" width="8.48" height="4.10" fill="#a0ff56"/>
<rect x="178.22" y="169.25" width="8.48" height="4.10" fill="#a0ff56"/>
<rect x="185.71" y="169.25" width="8.48" height="4.10" fill="#c7ff30"/>
<rect x="193.19" y="169.25" width="8.48" height="4.10" fill="#f8f500"/>
<rect x="200.67" y="169.25" width="8.48" height="4.10" fill="#ffc800"/>
<rect x="208.16" y="169.25" width="8.48" height="4.10" fill="#ff9800"/>
<rect x="215.64" y="169.25" width="8.48" height="4.10" fill="#ff5200"/>
<rect x="223.12" y="169.25" width="8.48" height="4.10" fill="#ff3800"/>
<rect x="230.60" y="169.25" width="8.48" height="4.10" fill="#f10800"/>
<rect x="238.09" y="169.25" width="8.48" height="4.10" fill="#ff3800"/>
<rect x="245.57" y="169.25" width="8.48" height="4.10" fill="#ffc800"/>
<rect x="253.05" y="169.25" width="8.48" height="4.10" fill="#a0ff56"/>
<rect x="260.54" y="169.25" width="8.48" height="4.10" fill="#26ffd1"/>
<rect x="268.02" y="169.25" width="8.48" height="4.10" fill="#00acff"/>
<rect x="275.50" y="169.25" width="8.48" height="3.10" fill="#0080ff"/>
<rect x="282.98" y="169.25" width="8.48" height="4.10" fill="#0080ff"/>
<rect x="290.47" y="169.25" width="8.48" height="3.10" fill="#0034ff"/>
<rect x="297.95" y="169.25" width="8.48" height="3.10" fill="#0000e3"/>
<rect x="305.43" y="169.25" width="7.48" height="3.10" fill="#0000e3"/>
<rect x="58.50" y="172.35" width="8.48" height="4.10" fill="#0000e3"/>
<rect x="65.98" y="172.35" width="8.48" height="4.10" fill="#4dffaa"/>
<rect x="73.47" y="172.35" width="8.48" height="4.10" fill="#a0ff56"/>
<rect x="80.95" y="172.35" width="8.48" height="4.10" fill="#c7ff30"/>
<rect x="88.43" y="172.35" width="8.48" height="4.10" fill="#f8f500"/>
<rect x="95.91" y="172.35" width="8.48" height="4.10" fill="#f8f500"/>
<rect x="103.40" y="172.35" width="8.48" height="4.10" fill="#f8f500"/>
<rect x="110.88" y="172.35" width="8.48" height="4.10" fill="#f8f500"/>
<rect x="118.36" y="172.35" width="8.48" height="4.10" fill="#f8f500"/>
<rect x="125.85" y="172.35" width="8.48" height="4.10" fill="#c7ff30"/>
<rect x="133.33" y="172.35" width="8.48" height="4.10" fill="#7dff7a"/>
<rect x="140.81" y="172.35" width="8.48" height="4.10" fill="#7dff7a"/>
<rect x="148.29" y="172.35" width="8.48" height="4.10" fill="#4dffaa"/>
<rect x="155.78" y="172.35" width="8.48" height="4.10" fill="#4dffaa"/>
<rect x="163.26" y="172.35" width="8.48" height="4.10" fill="#4dffaa"/>
<rect x="170.74" y="172.35" width="8.48" height="4.10" fill="#4dffaa"/>
<rect x="178.22" y="172.35" width="8.48" height="4.10" fill="#7dff7a"/>
<rect x="185.71" y="172.35" width="8.48" height="4.10" fill="#7dff7a"/>
<rect x="193.19" y="172.35" width="8.48" height="4.10" fill="#a0ff56"/>
<rect x="200.67" y="172.35" width="8.48" height="4.10" fill="#c7ff30"/>
<rect x="208.16" y="172.35" width="8.48" height="4.10" fill="#f8f500"/>
<rect x="215.64" y="172.35" width="8.48" height="4.10" fill="#ff9800"/>
<rect x="223.12" y="172.35" width="8.48" height="4.10" fill="#ff6c00"/>
<rect x="230.60" y="172.35" width="8.48" height="4.10" fill="#ff6c00"/>
<rect x="238.09" y="172.35" width="8.48" height="4.10" fill="#ff9800"/>
<rect x="245.57" y="172.35" width="8.48" height="4.10" fill="#f8f500"/>
<rect x="253.05" y="172.35" width="8.48" height="4.10" fill="#4dffaa"/>
<rect x="260.54" y="172.35" width="8.48" height="3.10" fill="#02e8f4"/>
<rect x="268.02" y="172.35" width="7.48" height="3.10" fill="#00acff"/>
<rect x="282.98" y="172.35" width="7.48" height="3.10" fill="#0000e3"/>
<rect x="58.50" y="175.45" width="8.48" height="3.10" fill="#0000e3"/>
<rect x="65.98" y="175.45" width="8.48" height="4.10" fill="#4dffaa"/>
<rect x="73.47" y="175.45" width="8.48" height="4.10" fill="#7dff7a"/>
<rect x="80.95" y="175.45" width="8.48" height="4.10" fill="#a0ff56"/>
<rect x="88.43" y="175.45" width="8.48" height="4.10" fill="#c7ff30"/>
<rect x="95.91" y="175.45" width="8.48" height="4.10" fill="#c7ff30"/>
<rect x="103.40" y="175.45" width="8.48" height="4.10" fill="#c7ff30"/>
<rect x="110.88" y="175.45" width="8.48" height="4.10" fill="#c7ff30"/>
<rect x="118.36" y="175.45" width="8.48" height="4.10" fill="#26ffd1"/>
<rect x="125.85" y="175.45" width="8.48" height="4.10" fill="#a0ff56"/>
<rect x="133.33" y="175.45" width="8.48" height="3.10" fill="#02e8f4"/>
<rect x="140.81" y="175.45" width="8.48" height="3.10" fill="#02e8f4"/>
<rect x="148.29" y="175.45" width="8.48" height="3.10" fill="#00acff"/>
<rect x="155.78" y="175.45" width="8.48" height="3.10" fill="#00acff"/>
<rect x="163.26" y="175.45" width="8.48" height="3.10" fill="#0034ff"/>
<rect x="170.74" y="175.45" width="8.48" height="3.10" fill="#26ffd1"/>
<rect x="178.22" y="175.45" width="8.48" height="3.10" fill="#00acff"/>
<rect x="185.71" y="175.45" width="8.48" height="4.10" fill="#26ffd1"/>
<rect x="193.19" y="175.45" width="8.48" height="3.10" fill="#00acff"/>
<rect x="200.67" y="175.45" width="8.48" height="4.10" fill="#4dffaa"/>
<rect x="208.16" y="175.45" width="8.48" height="4.10" fill="#a0ff56"/>
<rect x="215.64" y="175.45" width="8.48" height="4.10" fill="#c7ff30"/>
<rect x="223.12" y="175.45" width="8.48" height="4.10" fill="#f8f500"/>
<rect x="230.60" y="175.45" width="8.48" height="4.10" fill="#ffc800"/>
<rect x="238.09" y="175.45" width="8.48" height="4.10" fill="#f8f500"/>
<rect x="245.57" y="175.45" width="8.48" height="3.10" fill="#7dff7a"/>
<rect x="253.05" y="175.45" width="7.48" height="3.10" fill="#00acff"/>
<rect x="305.43" y="175.45" width="7.48" height="3.10" fill="#0000e3"/>
<rect x="65.98" y="178.55" width="8.48" height="4.10" fill="#000080"/>
<rect x="73.47" y="178.55" width="8.48" height="4.10" fill="#0000e3"/>
<rect x="80.95" y="178.55" width="8.48" height="4.10" fill="#000080"/>
<rect x="88.43" y="178.55" width="8.48" height="4.10" fill="#0000e3"/>
<rect x="95.91" y="178.55" width="8.48" height="4.10" fill="#0000e3"/>
<rect x="103.40" y="178.55" width="8.48" height="4.10" fill="#0000e3"/>
<rect x="110.88" y="178.55" width="8.48" height="4.10" fill="#0034ff"/>
<rect x="118.36" y="178.55" width="8.48" height="4.10" fill="#0080ff"/>
<rect x="125.85" y="178.55" width="7.48" height="4.10" fill="#0000e3"/>
<rect x="185.71" y="178.55" width="7.48" height="4.10" fill="#0000e3"/>
<rect x="200.67" y="178.55" width="8.48" height="4.10" fill="#000080"/>
<rect x="208.16" y="178.55" width="8.48" height="4.10" fill="#0000e3"/>
<rect x="215.64" y="178.55" width="8.48" height="4.10" fill="#0080ff"/>
<rect x="223.12" y="178.55" width="8.48" height="4.10" fill="#00acff"/>
<rect x="230.60" y="178.55" width="8.48" height="4.10" fill="#02e8f4"/>
<rect x="238.09" y="178.55" width="7.48" height="4.10" fill="#26ffd1"/>
<rect x="65.98" y="181.65" width="8.48" height="4.10" fill="#0000e3"/>
<rect x="73.47" y="181.65" width="8.48" height="4.10" fill="#00acff"/>
<rect x="80.95" y="181.65" width="8.48" height="4.10" fill="#02e8f4"/>
<rect x="88.43" y="181.65" width="8.48" height="4.10" fill="#0080ff"/>
<rect x="95.91" y="181.65" width="8.48" height="4.10" fill="#26ffd1"/>
<rect x="103.40" y="181.65" width="8.48" height="4.10" fill="#02e8f4"/>
<rect x="110.88" y="181.65" width="8.48" height="4.10" fill="#26ffd1"/>
<rect x="118.36" y="181.65" width="8.48" height="4.10" fill="#02e8f4"/>
<rect x="125.85" y="181.65" width="8.48" height="4.10" fill="#26ffd1"/>
<rect x="133.33" y="181.65" width="8.48" height="4.10" fill="#02e8f4"/>
<rect x="140.81" y="181.65" width="8.48" height="4.10" fill="#0034ff"/>
<rect x="148.29" y="181.65" width="8.48" height="4.10" fill="#000080"/>
<rect x="155.78" y="181.65" width="7.48" height="4.10" fill="#0000e3"/>
<rect x="170.74" y="181.65" width="8.48" height="4.10" fill="#000080"/>
<rect x="178.22" y="181.65" width="8.48" height="4.10" fill="#000080"/>
<rect x="185.71" y="181.65" width="8.48" height="4.10" fill="#0000e3"/>
<rect x="193.19" y="181.65" width="8.48" height="4.10" fill="#0034ff"/>
<rect x="200.67" y="181.65" width="8.48" height="4.10" fill="#0080ff"/>
<rect x="208.16" y="181.65" width="8.48" height="4.10" fill="#0000e3"/>
<rect x="215.64" y="181.65" width="8.48" height="4.10" fill="#02e8f4"/>
<rect x="223.12" y="181.65" width="8.48" height="4.10" fill="#7dff7a"/>
<rect x="230.60" y="181.65" width="8.48" height="4.10" fill="#7dff7a"/>
<rect x="238.09" y="181.65" width="8.48" height="4.10" fill="#4dffaa"/>
<rect x="245.57" y="181.65" width="8.48" height="4.10" fill="#02e8f4"/>
<rect x="253.05" y="181.65" width="7.48" height="4.10" fill="#000080"/>
<rect x="65.98" y="184.75" width="8.48" height="4.10" fill="#00acff"/>
<rect x="73.47" y="184.75" width="8.48" height="4.10" fill="#02e8f4"/>
<rect x="80.95" y="184.75" width="8.48" height="4.10" fill="#26ffd1"/>
<rect x="88.43" y="184.75" width="8.48" height="4.10" fill="#26ffd1"/>
<rect x="95.91" y="184.75" width="8.48" height="4.10" fill="#4dffaa"/>
<rect x="103.40" y="184.75" width="8.48" height="4.10" fill="#4dffaa"/>
<rect x="110.88" y="184.75" width="8.48" height="4.10" fill="#4dffaa"/>
<rect x="118.36" y="184.75" width="8.48" height="4.10" fill="#26ffd1"/>
<rect x="125.85" y="184.75" width="8.48" height="4.10" fill="#4dffaa"/>
<rect x="133.33" y="184.75" width="8.48" height="4.10" fill="#02e8f4"/>
<rect x="140.81" y="184.75" width="8.48" height="4.10" fill="#00acff"/>
<rect x="148.29" y="184.75" width="8.48" height="4.10" fill="#000080"/>
<rect x="155.78" y="184.75" width="8.48" height="4.10" fill="#0000e3"/>
<rect x="163.26" y="184.75" width="8.48" height="4.10" fill="#0080ff"/>
<rect x="170.74" y="184.75" width="8.48" height="4.10" fill="#00acff"/>
<rect x="178.22" y="184.75" width="8.48" height="4.10" fill="#02e8f4"/>
<rect x="185.71" y="184.75" width="8.48" height="4.10" fill="#0034ff"/>
<rect x="193.19" y="184.75" width="8.48" height="4.10" fill="#0080ff"/>
<rect x="200.67" y="184.75" width="8.48" height="4.10" fill="#00acff"/>
<rect x="208.16" y="184.75" width="8.48" height="4.10" fill="#26ffd1"/>
<rect x="215.64" y="184.75" width="8.48" height="4.10" fill="#4dffaa"/>
<rect x="223.12" y="184.75" width="8.48" height="4.10" fill="#7dff7a"/>
<rect x="230.60" y="184.75" width="8.48" height="4.10" fill="#a0ff56"/>
<rect x="238.09" y="184.75" width="8.48" height="4.10" fill="#7dff7a"/>
<rect x="245.57" y="184.75" width="8.48" height="4.10" fill="#02e8f4"/>
<rect x="253.05" y="184.75" width="8.48" height="4.10" fill="#000080"/>
<rect x="260.54" y="184.75" width="8.48" height="3.10" fill="#0000e3"/>
<rect x="268.02" y="184.75" width="7.48" height="4.10" fill="#000080"/>
<rect x="65.98" y="187.85" width="8.48" height="4.10" fill="#0000e3"/>
<rect x="73.47" y="187.85" width="8.48" height="4.10" fill="#26ffd1"/>
<rect x="80.95" y="187.85" width="8.48" height="4.10" fill="#4dffaa"/>
<rect x="88.43" y="187.85" width="8.48" height="4.10" fill="#4dffaa"/>
<rect x="95.91" y="187.85" width="8.48" height="4.10" fill="#7dff7a"/>
<rect x="103.40" y="187.85" width="8.48" height="4.10" fill="#7dff7a"/>
<rect x="110.88" y="187.85" width="8.48" height="4.10" fill="#a0ff56"/>
<rect x="118.36" y="187.85" width="8.48" height="4.10" fill="#4dffaa"/>
<rect x="125.85" y="187.85" width="8.48" height="4.10" fill="#4dffaa"/>
<rect x="133.33" y="187.85" width="8.48" height="4.10" fill="#4dffaa"/>
<rect x="140.81" y="187.85" width="8.48" height="4.10" fill="#26ffd1"/>
<rect x="148.29" y="187.85" width="8.48" height="4.10" fill="#0080ff"/>
<rect x="155.78" y="187.85" width="8.48" height="4.10" fill="#0034ff"/>
<rect x="163.26" y="187.85" width="8.48" height="4.10" fill="#0080ff"/>
<rect x="170.74" y="187.85" width="8.48" height="4.10" fill="#00acff"/>
<rect x="178.22" y="187.85" width="8.48" height="4.10" fill="#02e8f4"/>
<rect x="185.71" y="187.85" width="8.48" height="4.10" fill="#26ffd1"/>
<rect x="193.19" y="187.85" width="8.48" height="4.10" fill="#0034ff"/>
<rect x="200.67" y="187.85" width="8.48" height="4.10" fill="#4dffaa"/>
<rect x="208.16" y="187.85" width="8.48" height="4.10" fill="#26ffd1"/>
<rect x="215.64" y="187.85" width="8.48" height="4.10" fill="#7dff7a"/>
<rect x="223.12" y="187.85" width="8.48" height="4.10" fill="#a0ff56"/>
<rect x="230.60" y="187.85" width="8.48" height="4.10" fill="#c7ff30"/>
<rect x="238.09" y="187.85" width="8.48" height="4.10" fill="#7dff7a"/>
<rect x="245.57" y="187.85" width="8.48" height="4.10" fill="#00acff"/>
<rect x="253.05" y="187.85" width="7.48" height="4.10" fill="#0080ff"/>
<rect x="268.02" y="187.85" width="7.48" height="4.10" fill="#0000e3"/>
<rect x="65.98" y="190.95" width="8.48" height="4.10" fill="#0034ff"/>
<rect x="73.47" y="190.95" width="8.48" height="4.10" fill="#02e8f4"/>
<rect x="80.95" y="190.95" width="8.48" height="4.10" fill="#4dffaa"/>
<rect x="88.43" y="190.95" width="8.48" height="4.10" fill="#4dffaa"/>
<rect x="95.91" y="190.95" width="8.48" height="4.10" fill="#4dffaa"/>
<rect x="103.40" y="190.95" width="8.48" height="4.10" fill="#7dff7a"/>
<rect x="110.88" y="190.95" width="8.48" height="4.10" fill="#7dff7a"/>
<rect x="118.36" y="190.95" width="8.48" height="4.10" fill="#4dffaa"/>
<rect x="125.85" y="190.95" width="8.48" height="4.10" fill="#4dffaa"/>
<rect x="133.33" y="190.95" width="8.48" height="4.10" fill="#7dff7a"/>
<rect x="140.81" y="190.95" width="8.48" height="4.10" fill="#02e8f4"/>
<rect x="148.29" y="190.95" width="8.48" height="4.10" fill="#0080ff"/>
<rect x="155.78" y="190.95" width="8.48" height="4.10" fill="#0034ff"/>
<rect x="163.26" y="190.95" width="8.48" height="4.10" fill="#00acff"/>
<rect x="170.74" y="190.95" width="8.48" height="4.10" fill="#02e8f4"/>
<rect x="178.22" y="190.95" width="8.48" height="4.10" fill="#00acff"/>
<rect x="185.71" y="190.95" width="8.48" height="4.10" fill="#0080ff"/>
<rect x="193.19" y="190.95" width="8.48" height="4.10" fill="#02e8f4"/>
<rect x="200.67" y="190.95" width="8.48" height="4.10" fill="#02e8f4"/>
<rect x="208.16" y="190.95" width="8.48" height="4.10" fill="#26ffd1"/>
<rect x="215.64" y="190.95" width="8.48" height="4.10" fill="#7dff7a"/>
<rect x="223.12" y="190.95" width="8.48" height="4.10" fill="#7dff7a"/>
<rect x="230.60" y="190.95" width="8.48" height="4.10" fill="#a0ff56"/>
<rect x="238.09" y="190.95" width="8.48" height="4.10" fill="#4dffaa"/>
<rect x="245.57" y="190.95" width="8.48" height="4.10" fill="#0034ff"/>
<rect x="253.05" y="190.95" width="7.48" height="4.10" fill="#0000e3"/>
<rect x="268.02" y="190.95" width="7.48" height="3.10" fill="#0000e3"/>
<rect x="282.98" y="190.95" width="8.48" height="3.10" fill="#0000e3"/>
<rect x="290.47" y="190.95" width="7.48" height="4.10" fill="#0000e3"/>
<rect x="58.50" y="194.05" width="8.48" height="4.10" fill="#000080"/>
<rect x="65.98" y="194.05" width="8.48" height="4.10" fill="#0034ff"/>
<rect x="73.47" y="194.05" width="8.48" height="4.10" fill="#02e8f4"/>
<rect x="80.95" y="194.05" width="8.48" height="4.10" fill="#26ffd1"/>
<rect x="88.43" y="194.05" width="8.48" height="4.10" fill="#4dffaa"/>
<rect x="95.91" y="194.05" width="8.48" height="4.10" fill="#4dffaa"/>
<rect x="103.40" y="194.05" width="8.48" height="4.10" fill="#4dffaa"/>
<rect x="110.88" y="194.05" width="8.48" height="4.10" fill="#4dffaa"/>
<rect x="118.36" y="194.05" width="8.48" height="4.10" fill="#26ffd1"/>
<rect x="125.85" y="194.05" width="8.48" height="4.10" fill="#26ffd1"/>
<rect x="133.33" y="194.05" width="8.48" height="4.10" fill="#26ffd1"/>
<rect x="140.81" y="194.05" width="8.48" height="4.10" fill="#00acff"/>
<rect x="148.29" y="194.05" width="8.48" height="4.10" fill="#0080ff"/>
<rect x="155.78" y="194.05" width="8.48" height="4.10" fill="#0080ff"/>
<rect x="163.26" y="194.05" width="8.48" height="4.10" fill="#0080ff"/>
<rect x="170.74" y="194.05" width="8.48" height="4.10" fill="#00acff"/>
<rect x="178.22" y="194.05" width="8.48" height="4.10" fill="#0034ff"/>
<rect x="185.71" y="194.05" width="8.48" height="4.10" fill="#0000e3"/>
<rect x="193.19" y="194.05" width="8.48" height="4.10" fill="#00acff"/>
<rect x="200.67" y="194.05" width="8.48" height="4.10" fill="#00acff"/>
<rect x="208.16" y="194.05" width="8.48" height="4.10" fill="#02e8f4"/>
<rect x="215.64" y="194.05" width="8.48" height="4.10" fill="#4dffaa"/>
<rect x="223.12" y="194.05" width="8.48" height="4.10" fill="#4dffaa"/>
<rect x="230.60" y="194.05" width="8.48" height="4.10" fill="#7dff7a"/>
<rect x="238.09" y="194.05" width="8.48" height="4.10" fill="#26ffd1"/>
<rect x="245.57" y="194.05" width="8.48" height="4.10" fill="#0000e3"/>
<rect x="253.05" y="194.05" width="7.48" height="4.10" fill="#0000e3"/>
<rect x="290.47" y="194.05" width="7.48" height="3.10" fill="#0000e3"/>
<rect x="58.50" y="197.15" width="8.48" height="3.10" fill="#000080"/>
<rect x="65.98" y="197.15" width="8.48" height="4.10" fill="#000080"/>
<rect x="73.47" y="197.15" width="8.48" height="4.10" fill="#0000e3"/>
<rect x="80.95" y="197.15" width="8.48" height="4.10" fill="#0034ff"/>
<rect x="88.43" y="197.15" width="8.48" height="4.10" fill="#02e8f4"/>
<rect x="95.91" y="197.15" width="8.48" height="4.10" fill="#00acff"/>
<rect x="103.40" y="197.15" width="8.48" height="4.10" fill="#0080ff"/>
<rect x="110.88" y="197.15" width="8.48" height="4.10" fill="#02e8f4"/>
<rect x="118.36" y="197.15" width="8.48" height="4.10" fill="#0080ff"/>
<rect x="125.85" y="197.15" width="8.48" height="4.10" fill="#02e8f4"/>
<rect x="133.33" y="197.15" width="8.48" height="4.10" fill="#02e8f4"/>
<rect x="140.81" y="197.15" width="8.48" height="4.10" fill="#0080ff"/>
<rect x="148.29" y="197.15" width="8.48" height="3.10" fill="#0080ff"/>
<rect x="155.78" y="197.15" width="8.48" height="4.10" fill="#0080ff"/>
<rect x="163.26" y="197.15" width="8.48" height="4.10" fill="#0080ff"/>
<rect x="170.74" y="197.15" width="8.48" height="3.10" fill="#00acff"/>
<rect x="178.22" y="197.15" width="8.48" height="4.10" fill="#0000e3"/>
<rect x="185.71" y="197.15" width="8.48" height="3.10" fill="#0000e3"/>
<rect x="193.19" y="197.15" width="8.48" height="3.10" fill="#0000e3"/>
<rect x="200.67" y="197.15" width="8.48" height="3.10" fill="#0080ff"/>
<rect x="208.16" y="197.15" width="8.48" height="4.10" fill="#0080ff"/>
<rect x="215.64" y="197.15" width="8.48" height="4.10" fill="#26ffd1"/>
<rect x="223.12" y="197.15" width="8.48" height="4.10" fill="#26ffd1"/>
<rect x="230.60" y="197.15" width="8.48" height="4.10" fill="#4dffaa"/>
<rect x="238.09" y="197.15" width="8.48" height="4.10" fill="#02e8f4"/>
<rect x="245.57" y="197.15" width="8.48" height="3.10" fill="#0000e3"/>
<rect x="253.05" y="197.15" width="7.48" height="4.10" fill="#000080"/>
<rect x="65.98" y="200.25" width="8.48" height="3.10" fill="#0080ff"/>
<rect x="73.47" y="200.25" width="8.48" height="4.10" fill="#0034ff"/>
<rect x="80.95" y="200.25" width="8.48" height="4.10" fill="#0000e3"/>
<rect x="88.43" y="200.25" width="8.48" height="4.10" fill="#02e8f4"/>
<rect x="95.91" y="200.25" width="8.48" height="4.10" fill="#0080ff"/>
<rect x="103.40" y="200.25" width="8.48" height="4.10" fill="#0000e3"/>
<rect x="110.88" y="200.25" width="8.48" height="4.10" fill="#00acff"/>
<rect x="118.36" y="200.25" width="8.48" height="4.10" fill="#02e8f4"/>
<rect x="125.85" y="200.25" width="8.48" height="4.10" fill="#00acff"/>
<rect x="133.33" y="200.25" width="8.48" height="4.10" fill="#02e8f4"/>
<rect x="140.81" y="200.25" width="7.48" height="4.10" fill="#000080"/>
<rect x="155.78" y="200.25" width="8.48" height="3.10" fill="#0000e3"/>
<rect x="163.26" y="200.25" width="7.48" height="3.10" fill="#000080"/>
<rect x="178.22" y="200.25" width="7.48" height="4.10" fill="#000080"/>
<rect x="208.16" y="200.25" width="8.48" height="4.10" fill="#0034ff"/>
<rect x="215.64" y="200.25" width="8.48" height="4.10" fill="#02e8f4"/>
<rect x="223.12" y="200.25" width="8.48" height="4.10" fill="#0080ff"/>
<rect x="230.60" y="200.25" width="8.48" height="4.10" fill="#00acff"/>
<rect x="238.09" y="200.25" width="7.48" height="3.10" fill="#0000e3"/>
<rect x="253.05" y="200.25" width="7.48" height="3.10" fill="#0000e3"/>
<rect x="73.47" y="203.35" width="8.48" height="4.10" fill="#000080"/>
<rect x="80.95" y="203.35" width="8.48" height="4.10" fill="#0080ff"/>
<rect x="88.43" y="203.35" width="8.48" height="4.10" fill="#02e8f4"/>
<rect x="95.91" y="203.35" width="8.48" height="4.10" fill="#0000e3"/>
<rect x="103.40" y="203.35" width="8.48" height="3.10" fill="#0080ff"/>
<rect x="110.88" y="203.35" width="8.48" height="4.10" fill="#0080ff"/>
<rect x="118.36" y="203.35" width="8.48" height="4.10" fill="#02e8f4"/>
<rect x="125.85" y="203.35" width="8.48" height="4.10" fill="#000080"/>
<rect x="133.33" y="203.35" width="8.48" height="3.10" fill="#00acff"/>
<rect x="140.81" y="203.35" width="8.48" height="4.10" fill="#0000e3"/>
<rect x="148.29" y="203.35" width="7.48" height="4.10" fill="#000080"/>
<rect x="170.74" y="203.35" width="8.48" height="3.10" fill="#0000e3"/>
<rect x="178.22" y="203.35" width="7.48" height="4.10" fill="#0000e3"/>
<rect x="208.16" y="203.35" width="8.48" height="4.10" fill="#0000e3"/>
<rect x="215.64" y="203.35" width="8.48" height="4.10" fill="#02e8f4"/>
<rect x="223.12" y="203.35" width="8.48" height="4.10" fill="#0034ff"/>
<rect x="230.60" y="203.35" width="7.48" height="4.10" fill="#00acff"/>
<rect x="245.57" y="203.35" width="7.48" height="4.10" fill="#000080"/>
<rect x="73.47" y="206.45" width="8.48" height="3.10" fill="#0000e3"/>
<rect x="80.95" y="206.45" width="8.48" height="4.10" fill="#0034ff"/>
<rect x="88.43" y="206.45" width="8.48" height="4.10" fill="#0000e3"/>
<rect x="95.91" y="206.45" width="7.48" height="4.10" fill="#0000e3"/>
<rect x="110.88" y="206.45" width="8.48" height="4.10" fill="#0000e3"/>
<rect x="118.36" y="206.45" width="8.48" height="4.10" fill="#00acff"/>
<rect x="125.85" y="206.45" width="7.48" height="4.10" fill="#0034ff"/>
<rect x="140.81" y="206.45" width="8.48" height="4.10" fill="#000080"/>
<rect x="148.29" y="206.45" width="7.48" height="4.10" fill="#0000e3"/>
<rect x="178.22" y="206.45" width="7.48" height="3.10" fill="#0000e3"/>
<rect x="200.67" y="206.45" width="8.48" height="3.10" fill="#0000e3"/>
<rect x="208.16" y="206.45" width="8.48" height="3.10" fill="#00acff"/>
<rect x="215.64" y="206.45" width="8.48" height="3.10" fill="#0000e3"/>
<rect x="223.12" y="206.45" width="8.48" height="4.10" fill="#000080"/>
<rect x="230.60" y="206.45" width="8.48" height="4.10" fill="#0000e3"/>
<rect x="238.09" y="206.45" width="8.48" height="4.10" fill="#0034ff"/>
<rect x="245.57" y="206.45" width="7.48" height="3.10" fill="#000080"/>
<rect x="80.95" y="209.55" width="8.48" height="3.10" fill="#000080"/>
<rect x="88.43" y="209.55" width="8.48" height="3.10" fill="#0000e3"/>
<rect x="95.91" y="209.55" width="8.48" height="4.10" fill="#0000e3"/>
<rect x="103.40" y="209.55" width="8.48" height="4.10" fill="#000080"/>
<rect x="110.88" y="209.55" width="8.48" height="3.10" fill="#000080"/>
<rect x="118.36" y="209.55" width="8.48" height="4.10" fill="#0080ff"/>
<rect x="125.85" y="209.55" width="7.48" height="4.10" fill="#0034ff"/>
<rect x="140.81" y="209.55" width="8.48" height="4.10" fill="#0000e3"/>
<rect x="148.29" y="209.55" width="7.48" height="3.10" fill="#0000e3"/>
<rect x="193.19" y="209.55" width="7.48" height="4.10" fill="#0000e3"/>
<rect x="223.12" y="209.55" width="8.48" height="4.10" fill="#000080"/>
<rect x="230.60" y="209.55" width="8.48" height="3.10" fill="#0000e3"/>
<rect x="238.09" y="209.55" width="7.48" height="4.10" fill="#0000e3"/>
<rect x="312.92" y="209.55" width="7.48" height="3.10" fill="#000080"/>
<rect x="73.47" y="212.65" width="7.48" height="4.10" fill="#0000e3"/>
<rect x="95.91" y="212.65" width="8.48" height="4.10" fill="#000080"/>
<rect x="103.40" y="212.65" width="7.48" height="3.10" fill="#0000e3"/>
<rect x="118.36" y="212.65" width="8.48" height="4.10" fill="#000080"/>
<rect x="125.85" y="212.65" width="8.48" height="4.10" fill="#000080"/>
<rect x="133.33" y="212.65" width="8.48" height="4.10" fill="#0000e3"/>
<rect x="140.81" y="212.65" width="7.48" height="3.10" fill="#0000e3"/>
<rect x="193.19" y="212.65" width="7.48" height="3.10" fill="#0000e3"/>
<rect x="215.64" y="212.65" width="8.48" height="3.10" fill="#000080"/>
<rect x="223.12" y="212.65" width="7.48" height="3.10" fill="#0000e3"/>
<rect x="238.09" y="212.65" width="7.48" height="3.10" fill="#000080"/>
<rect x="73.47" y="215.75" width="7.48" height="4.10" fill="#000080"/>
<rect x="95.91" y="215.75" width="7.48" height="3.10" fill="#000080"/>
<rect x="110.88" y="215.75" width="8.48" height="3.10" fill="#0000e3"/>
<rect x="118.36" y="215.75" width="8.48" height="4.10" fill="#0000e3"/>
<rect x="125.85" y="215.75" width="8.48" height="3.10" fill="#000080"/>
<rect x="133.33" y="215.75" width="7.48" height="3.10" fill="#0034ff"/>
<rect x="148.29" y="215.75" width="7.48" height="4.10" fill="#0000e3"/>
<rect x="208.16" y="215.75" width="7.48" height="3.10" fill="#000080"/>
<rect x="230.60" y="215.75" width="7.48" height="3.10" fill="#0000e3"/>
<rect x="245.57" y="215.75" width="7.48" height="4.10" fill="#000080"/>
<rect x="73.47" y="218.85" width="7.48" height="4.10" fill="#000080"/>
<rect x="88.43" y="218.85" width="7.48" height="3.10" fill="#000080"/>
<rect x="118.36" y="218.85" width="7.48" height="4.10" fill="#000080"/>
<rect x="148.29" y="218.85" width="7.48" height="4.10" fill="#0000e3"/>
<rect x="178.22" y="218.85" width="7.48" height="3.10" fill="#000080"/>
<rect x="245.57" y="218.85" width="7.48" height="3.10" fill="#000080"/>
<rect x="73.47" y="221.95" width="8.48" height="3.10" fill="#000080"/>
<rect x="80.95" y="221.95" width="7.48" height="4.10" fill="#000080"/>
<rect x="118.36" y="221.95" width="8.48" height="4.10" fill="#000080"/>
<rect x="125.85" y="221.95" width="8.48" height="4.10" fill="#000080"/>
<rect x="133.33" y="221.95" width="7.48" height="3.10" fill="#000080"/>
<rect x="148.29" y="221.95" width="7.48" height="3.10" fill="#0000e3"/>
<rect x="80.95" y="225.05" width="7.48" height="3.10" fill="#000080"/>
<rect x="103.40" y="225.05" width="8.48" height="3.10" fill="#000080"/>
<rect x="110.88" y="225.05" width="8.48" height="3.10" fill="#000080"/>
<rect x="118.36" y="225.05" width="8.48" height="3.10" fill="#000080"/>
<rect x="125.85" y="225.05" width="7.48" height="3.10" fill="#000080"/>
<rect x="140.81" y="225.05" width="7.48" height="4.10" fill="#000080"/>
<rect x="200.67" y="225.05" width="8.48" height="4.10" fill="#000080"/>
<rect x="208.16" y="225.05" width="7.48" height="3.10" fill="#000080"/>
<rect x="88.43" y="228.15" width="7.48" height="3.10" fill="#000080"/>
<rect x="140.81" y="228.15" width="7.48" height="3.10" fill="#000080"/>
<rect x="200.67" y="228.15" width="7.48" height="3.10" fill="#000080"/>
<rect x="230.60" y="228.15" width="7.48" height="3.10" fill="#000080"/>
<rect x="110.88" y="231.25" width="8.48" height="3.10" fill="#0000e3"/>
<rect x="118.36" y="231.25" width="7.48" height="3.10" fill="#000080"/>
<rect x="103.40" y="234.35" width="7.48" height="3.10" fill="#000080"/>
<rect x="208.16" y="237.45" width="7.48" height="3.10" fill="#000080"/>
<rect x="238.09" y="240.55" width="7.48" height="3.10" fill="#0000e3"/>
<rect x="88.43" y="256.05" width="7.48" height="3.10" fill="#000080"/>
</g>
<g stroke="#b0b0b0" stroke-opacity="0.52" stroke-width="0.9" stroke-dasharray="3.1 1.4" fill="none">
<line x1="58.50" y1="26.5" x2="58.50" y2="305.8"/>
<line x1="95.91" y1="26.5" x2="95.91" y2="305.8"/>
<line x1="133.33" y1="26.5" x2="133.33" y2="305.8"/>
<line x1="170.74" y1="26.5" x2="170.74" y2="305.8"/>
<line x1="208.16" y1="26.5" x2="208.16" y2="305.8"/>
<line x1="245.57" y1="26.5" x2="245.57" y2="305.8"/>
<line x1="282.98" y1="26.5" x2="282.98" y2="305.8"/>
<line x1="320.40" y1="26.5" x2="320.40" y2="305.8"/>
<line x1="36.4" y1="87.10" x2="335.4" y2="87.10"/>
<line x1="36.4" y1="149.10" x2="335.4" y2="149.10"/>
<line x1="36.4" y1="211.10" x2="335.4" y2="211.10"/>
<line x1="36.4" y1="273.10" x2="335.4" y2="273.10"/>
</g>
<rect x="36.4" y="26.5" width="299.0" height="279.3" fill="none" stroke="#1c1c1c" stroke-width="1.2"/>
<g stroke="#1c1c1c" stroke-width="1.1">
<line x1="58.50" y1="305.8" x2="58.50" y2="309.40000000000003"/>
<line x1="95.91" y1="305.8" x2="95.91" y2="309.40000000000003"/>
<line x1="133.33" y1="305.8" x2="133.33" y2="309.40000000000003"/>
<line x1="170.74" y1="305.8" x2="170.74" y2="309.40000000000003"/>
<line x1="208.16" y1="305.8" x2="208.16" y2="309.40000000000003"/>
<line x1="245.57" y1="305.8" x2="245.57" y2="309.40000000000003"/>
<line x1="282.98" y1="305.8" x2="282.98" y2="309.40000000000003"/>
<line x1="320.40" y1="305.8" x2="320.40" y2="309.40000000000003"/>
<line x1="32.8" y1="87.10" x2="36.4" y2="87.10"/>
<line x1="32.8" y1="149.10" x2="36.4" y2="149.10"/>
<line x1="32.8" y1="211.10" x2="36.4" y2="211.10"/>
<line x1="32.8" y1="273.10" x2="36.4" y2="273.10"/>
</g>
<g font-family="DejaVu Sans, Liberation Sans, sans-serif" font-size="10.6" fill="#111">
<text x="58.50" y="321.5" text-anchor="middle">300</text>
<text x="95.91" y="321.5" text-anchor="middle">400</text>
<text x="133.33" y="321.5" text-anchor="middle">500</text>
<text x="170.74" y="321.5" text-anchor="middle">600</text>
<text x="208.16" y="321.5" text-anchor="middle">700</text>
<text x="245.57" y="321.5" text-anchor="middle">800</text>
<text x="282.98" y="321.5" text-anchor="middle">900</text>
<text x="320.40" y="321.5" text-anchor="middle">1000</text>
<text x="29.4" y="91.05" text-anchor="end">4</text>
<text x="29.4" y="153.05" text-anchor="end">2</text>
<text x="29.4" y="215.05" text-anchor="end">0</text>
<text x="29.4" y="277.05" text-anchor="end">−2</text>
</g>
<text font-family="DejaVu Sans, Liberation Sans, sans-serif" font-size="10.6" fill="#111" x="185.9" y="336.4" text-anchor="middle"><tspan font-style="italic">V</tspan> [km s<tspan font-size="7.4" dy="-3.9">−1</tspan><tspan dy="3.9">]</tspan></text>
<text font-family="DejaVu Sans, Liberation Sans, sans-serif" font-size="10.6" fill="#111" font-style="italic" text-anchor="middle" transform="translate(6.5,165.8) rotate(-90)">γ</text>
<text font-family="DejaVu Sans, Liberation Sans, sans-serif" font-size="24.5" font-weight="bold" x="38.4" y="55.4">(a)</text>
<rect x="339.4" y="26.5" width="14.400000000000034" height="279.3" fill="url(#jet)" stroke="#1c1c1c" stroke-width="0.8"/>
<g stroke="#1c1c1c" stroke-width="1.1">
<line x1="353.8" y1="305.80" x2="357.40000000000003" y2="305.80"/>
<line x1="353.8" y1="264.61" x2="357.40000000000003" y2="264.61"/>
<line x1="353.8" y1="223.41" x2="357.40000000000003" y2="223.41"/>
<line x1="353.8" y1="182.22" x2="357.40000000000003" y2="182.22"/>
<line x1="353.8" y1="141.02" x2="357.40000000000003" y2="141.02"/>
<line x1="353.8" y1="99.83" x2="357.40000000000003" y2="99.83"/>
<line x1="353.8" y1="58.63" x2="357.40000000000003" y2="58.63"/>
</g>
<g font-family="DejaVu Sans, Liberation Sans, sans-serif" font-size="10.6" fill="#111">
<text x="361.2" y="309.75">0.0</text>
<text x="361.2" y="268.56">0.5</text>
<text x="361.2" y="227.36">1.0</text>
<text x="361.2" y="186.17">1.5</text>
<text x="361.2" y="144.97">2.0</text>
<text x="361.2" y="103.78">2.5</text>
<text x="361.2" y="62.58">3.0</text>
</g>
<text font-family="DejaVu Sans, Liberation Sans, sans-serif" font-size="10.6" fill="#111" text-anchor="middle" transform="translate(390.6,167) rotate(-90)">log<tspan font-size="7.4" dy="2.2">10</tspan><tspan dy="-2.2">(occurrence)</tspan></text>
<g stroke="#b0b0b0" stroke-opacity="0.48" stroke-width="0.7" stroke-dasharray="1.6 1.1" fill="none">
<line x1="459.20" y1="4.1" x2="459.20" y2="156.6"/>
<line x1="494.01" y1="4.1" x2="494.01" y2="156.6"/>
<line x1="528.82" y1="4.1" x2="528.82" y2="156.6"/>
<line x1="563.63" y1="4.1" x2="563.63" y2="156.6"/>
<line x1="598.44" y1="4.1" x2="598.44" y2="156.6"/>
<line x1="633.25" y1="4.1" x2="633.25" y2="156.6"/>
<line x1="668.06" y1="4.1" x2="668.06" y2="156.6"/>
<line x1="702.87" y1="4.1" x2="702.87" y2="156.6"/>
<line x1="737.68" y1="4.1" x2="737.68" y2="156.6"/>
<line x1="445.2" y1="126.10" x2="751.7" y2="126.10"/>
<line x1="445.2" y1="95.60" x2="751.7" y2="95.60"/>
<line x1="445.2" y1="65.10" x2="751.7" y2="65.10"/>
<line x1="445.2" y1="34.60" x2="751.7" y2="34.60"/>
</g>
<g stroke="#1e1e1e" stroke-width="1.25">
<line x1="459.20" y1="19.60" x2="459.20" y2="45.80"/>
<line x1="457.95" y1="19.60" x2="460.45" y2="19.60" stroke-width="0.8"/>
<line x1="457.95" y1="45.80" x2="460.45" y2="45.80" stroke-width="0.8"/>
<line x1="494.01" y1="7.80" x2="494.01" y2="39.20"/>
<line x1="492.76" y1="7.80" x2="495.26" y2="7.80" stroke-width="0.8"/>
<line x1="492.76" y1="39.20" x2="495.26" y2="39.20" stroke-width="0.8"/>
<line x1="528.82" y1="42.50" x2="528.82" y2="56.50"/>
<line x1="527.57" y1="42.50" x2="530.07" y2="42.50" stroke-width="0.8"/>
<line x1="527.57" y1="56.50" x2="530.07" y2="56.50" stroke-width="0.8"/>
<line x1="563.63" y1="60.90" x2="563.63" y2="72.30"/>
<line x1="562.38" y1="60.90" x2="564.88" y2="60.90" stroke-width="0.8"/>
<line x1="562.38" y1="72.30" x2="564.88" y2="72.30" stroke-width="0.8"/>
<line x1="598.44" y1="39.40" x2="598.44" y2="52.00"/>
<line x1="597.19" y1="39.40" x2="599.69" y2="39.40" stroke-width="0.8"/>
<line x1="597.19" y1="52.00" x2="599.69" y2="52.00" stroke-width="0.8"/>
<line x1="633.25" y1="66.80" x2="633.25" y2="76.60"/>
<line x1="632.00" y1="66.80" x2="634.50" y2="66.80" stroke-width="0.8"/>
<line x1="632.00" y1="76.60" x2="634.50" y2="76.60" stroke-width="0.8"/>
<line x1="668.06" y1="33.60" x2="668.06" y2="49.20"/>
<line x1="666.81" y1="33.60" x2="669.31" y2="33.60" stroke-width="0.8"/>
<line x1="666.81" y1="49.20" x2="669.31" y2="49.20" stroke-width="0.8"/>
<line x1="702.87" y1="70.90" x2="702.87" y2="87.90"/>
<line x1="701.62" y1="70.90" x2="704.12" y2="70.90" stroke-width="0.8"/>
<line x1="701.62" y1="87.90" x2="704.12" y2="87.90" stroke-width="0.8"/>
<line x1="737.68" y1="86.30" x2="737.68" y2="102.30"/>
<line x1="736.43" y1="86.30" x2="738.93" y2="86.30" stroke-width="0.8"/>
<line x1="736.43" y1="102.30" x2="738.93" y2="102.30" stroke-width="0.8"/>
</g>
<circle cx="459.20" cy="32.70" r="3.1" fill="#000"/>
<circle cx="494.01" cy="23.50" r="3.1" fill="#000"/>
<circle cx="528.82" cy="49.50" r="3.1" fill="#000"/>
<circle cx="563.63" cy="66.60" r="3.1" fill="#000"/>
<circle cx="598.44" cy="45.70" r="3.1" fill="#000"/>
<circle cx="633.25" cy="71.70" r="3.1" fill="#000"/>
<circle cx="668.06" cy="41.40" r="3.1" fill="#000"/>
<circle cx="702.87" cy="79.40" r="3.1" fill="#000"/>
<circle cx="737.68" cy="94.30" r="3.1" fill="#000"/>
<rect x="445.2" y="4.1" width="306.50000000000006" height="152.5" fill="none" stroke="#484848" stroke-width="1.0"/>
<g stroke="#484848" stroke-width="0.9">
<line x1="459.20" y1="156.6" x2="459.20" y2="159.29999999999998"/>
<line x1="494.01" y1="156.6" x2="494.01" y2="159.29999999999998"/>
<line x1="528.82" y1="156.6" x2="528.82" y2="159.29999999999998"/>
<line x1="563.63" y1="156.6" x2="563.63" y2="159.29999999999998"/>
<line x1="598.44" y1="156.6" x2="598.44" y2="159.29999999999998"/>
<line x1="633.25" y1="156.6" x2="633.25" y2="159.29999999999998"/>
<line x1="668.06" y1="156.6" x2="668.06" y2="159.29999999999998"/>
<line x1="702.87" y1="156.6" x2="702.87" y2="159.29999999999998"/>
<line x1="737.68" y1="156.6" x2="737.68" y2="159.29999999999998"/>
<line x1="442.5" y1="156.60" x2="445.2" y2="156.60"/>
<line x1="442.5" y1="126.10" x2="445.2" y2="126.10"/>
<line x1="442.5" y1="95.60" x2="445.2" y2="95.60"/>
<line x1="442.5" y1="65.10" x2="445.2" y2="65.10"/>
<line x1="442.5" y1="34.60" x2="445.2" y2="34.60"/>
<line x1="442.5" y1="4.10" x2="445.2" y2="4.10"/>
</g>
<g font-family="DejaVu Sans, Liberation Sans, sans-serif" font-size="7.7" fill="#000" stroke="#000" stroke-width="0.12">
<text x="459.20" y="166.70" text-anchor="middle">1.5</text>
<text x="494.01" y="166.70" text-anchor="middle">2.0</text>
<text x="528.82" y="166.70" text-anchor="middle">2.5</text>
<text x="563.63" y="166.70" text-anchor="middle">3.0</text>
<text x="598.44" y="166.70" text-anchor="middle">3.5</text>
<text x="633.25" y="166.70" text-anchor="middle">4.0</text>
<text x="668.06" y="166.70" text-anchor="middle">4.5</text>
<text x="702.87" y="166.70" text-anchor="middle">5.0</text>
<text x="737.68" y="166.70" text-anchor="middle">5.5</text>
<text x="440.59999999999997" y="159.40" text-anchor="end">1.40</text>
<text x="440.59999999999997" y="128.90" text-anchor="end">1.45</text>
<text x="440.59999999999997" y="98.40" text-anchor="end">1.50</text>
<text x="440.59999999999997" y="67.90" text-anchor="end">1.55</text>
<text x="440.59999999999997" y="37.40" text-anchor="end">1.60</text>
<text x="440.59999999999997" y="6.90" text-anchor="end">1.65</text>
</g>
<text font-family="DejaVu Sans, Liberation Sans, sans-serif" font-size="8.1" fill="#000" stroke="#000" stroke-width="0.12" x="598.5" y="177.60" text-anchor="middle"><tspan font-style="italic">R</tspan> [au]</text>
<text font-family="DejaVu Sans, Liberation Sans, sans-serif" font-size="8.1" fill="#000" stroke="#000" stroke-width="0.12" text-anchor="middle" transform="translate(419.4,80.35) rotate(-90)">mean <tspan font-style="italic">γ</tspan></text>
<text font-family="DejaVu Sans, Liberation Sans, sans-serif" font-size="25" font-weight="bold" x="447.4" y="147.6">(b)</text>
<g stroke="#b0b0b0" stroke-opacity="0.48" stroke-width="0.7" stroke-dasharray="1.6 1.1" fill="none">
<line x1="459.20" y1="191.7" x2="459.20" y2="344.4"/>
<line x1="494.01" y1="191.7" x2="494.01" y2="344.4"/>
<line x1="528.82" y1="191.7" x2="528.82" y2="344.4"/>
<line x1="563.63" y1="191.7" x2="563.63" y2="344.4"/>
<line x1="598.44" y1="191.7" x2="598.44" y2="344.4"/>
<line x1="633.25" y1="191.7" x2="633.25" y2="344.4"/>
<line x1="668.06" y1="191.7" x2="668.06" y2="344.4"/>
<line x1="702.87" y1="191.7" x2="702.87" y2="344.4"/>
<line x1="737.68" y1="191.7" x2="737.68" y2="344.4"/>
<line x1="445.2" y1="313.86" x2="751.7" y2="313.86"/>
<line x1="445.2" y1="283.32" x2="751.7" y2="283.32"/>
<line x1="445.2" y1="252.78" x2="751.7" y2="252.78"/>
<line x1="445.2" y1="222.24" x2="751.7" y2="222.24"/>
</g>
<g stroke="#1e1e1e" stroke-width="1.25">
<line x1="459.20" y1="203.30" x2="459.20" y2="229.10"/>
<line x1="457.95" y1="203.30" x2="460.45" y2="203.30" stroke-width="0.8"/>
<line x1="457.95" y1="229.10" x2="460.45" y2="229.10" stroke-width="0.8"/>
<line x1="494.01" y1="214.00" x2="494.01" y2="232.60"/>
<line x1="492.76" y1="214.00" x2="495.26" y2="214.00" stroke-width="0.8"/>
<line x1="492.76" y1="232.60" x2="495.26" y2="232.60" stroke-width="0.8"/>
<line x1="528.82" y1="219.00" x2="528.82" y2="230.60"/>
<line x1="527.57" y1="219.00" x2="530.07" y2="219.00" stroke-width="0.8"/>
<line x1="527.57" y1="230.60" x2="530.07" y2="230.60" stroke-width="0.8"/>
<line x1="563.63" y1="250.50" x2="563.63" y2="266.50"/>
<line x1="562.38" y1="250.50" x2="564.88" y2="250.50" stroke-width="0.8"/>
<line x1="562.38" y1="266.50" x2="564.88" y2="266.50" stroke-width="0.8"/>
<line x1="598.44" y1="277.30" x2="598.44" y2="296.30"/>
<line x1="597.19" y1="277.30" x2="599.69" y2="277.30" stroke-width="0.8"/>
<line x1="597.19" y1="296.30" x2="599.69" y2="296.30" stroke-width="0.8"/>
<line x1="633.25" y1="262.10" x2="633.25" y2="282.10"/>
<line x1="632.00" y1="262.10" x2="634.50" y2="262.10" stroke-width="0.8"/>
<line x1="632.00" y1="282.10" x2="634.50" y2="282.10" stroke-width="0.8"/>
<line x1="668.06" y1="247.30" x2="668.06" y2="261.10"/>
<line x1="666.81" y1="247.30" x2="669.31" y2="247.30" stroke-width="0.8"/>
<line x1="666.81" y1="261.10" x2="669.31" y2="261.10" stroke-width="0.8"/>
<line x1="702.87" y1="249.00" x2="702.87" y2="270.20"/>
<line x1="701.62" y1="249.00" x2="704.12" y2="249.00" stroke-width="0.8"/>
<line x1="701.62" y1="270.20" x2="704.12" y2="270.20" stroke-width="0.8"/>
<line x1="737.68" y1="211.60" x2="737.68" y2="236.00"/>
<line x1="736.43" y1="211.60" x2="738.93" y2="211.60" stroke-width="0.8"/>
<line x1="736.43" y1="236.00" x2="738.93" y2="236.00" stroke-width="0.8"/>
</g>
<circle cx="459.20" cy="216.20" r="3.1" fill="#000"/>
<circle cx="494.01" cy="223.30" r="3.1" fill="#000"/>
<circle cx="528.82" cy="224.80" r="3.1" fill="#000"/>
<circle cx="563.63" cy="258.50" r="3.1" fill="#000"/>
<circle cx="598.44" cy="286.80" r="3.1" fill="#000"/>
<circle cx="633.25" cy="272.10" r="3.1" fill="#000"/>
<circle cx="668.06" cy="254.20" r="3.1" fill="#000"/>
<circle cx="702.87" cy="259.60" r="3.1" fill="#000"/>
<circle cx="737.68" cy="223.80" r="3.1" fill="#000"/>
<rect x="445.2" y="191.7" width="306.50000000000006" height="152.7" fill="none" stroke="#484848" stroke-width="1.0"/>
<g stroke="#484848" stroke-width="0.9">
<line x1="459.20" y1="344.4" x2="459.20" y2="347.09999999999997"/>
<line x1="494.01" y1="344.4" x2="494.01" y2="347.09999999999997"/>
<line x1="528.82" y1="344.4" x2="528.82" y2="347.09999999999997"/>
<line x1="563.63" y1="344.4" x2="563.63" y2="347.09999999999997"/>
<line x1="598.44" y1="344.4" x2="598.44" y2="347.09999999999997"/>
<line x1="633.25" y1="344.4" x2="633.25" y2="347.09999999999997"/>
<line x1="668.06" y1="344.4" x2="668.06" y2="347.09999999999997"/>
<line x1="702.87" y1="344.4" x2="702.87" y2="347.09999999999997"/>
<line x1="737.68" y1="344.4" x2="737.68" y2="347.09999999999997"/>
<line x1="442.5" y1="344.40" x2="445.2" y2="344.40"/>
<line x1="442.5" y1="313.86" x2="445.2" y2="313.86"/>
<line x1="442.5" y1="283.32" x2="445.2" y2="283.32"/>
<line x1="442.5" y1="252.78" x2="445.2" y2="252.78"/>
<line x1="442.5" y1="222.24" x2="445.2" y2="222.24"/>
<line x1="442.5" y1="191.70" x2="445.2" y2="191.70"/>
</g>
<g font-family="DejaVu Sans, Liberation Sans, sans-serif" font-size="7.7" fill="#000" stroke="#000" stroke-width="0.12">
<text x="459.20" y="354.50" text-anchor="middle">−80</text>
<text x="494.01" y="354.50" text-anchor="middle">−60</text>
<text x="528.82" y="354.50" text-anchor="middle">−40</text>
<text x="563.63" y="354.50" text-anchor="middle">−20</text>
<text x="598.44" y="354.50" text-anchor="middle">0</text>
<text x="633.25" y="354.50" text-anchor="middle">20</text>
<text x="668.06" y="354.50" text-anchor="middle">40</text>
<text x="702.87" y="354.50" text-anchor="middle">60</text>
<text x="737.68" y="354.50" text-anchor="middle">80</text>
<text x="440.59999999999997" y="347.20" text-anchor="end">1.40</text>
<text x="440.59999999999997" y="316.66" text-anchor="end">1.45</text>
<text x="440.59999999999997" y="286.12" text-anchor="end">1.50</text>
<text x="440.59999999999997" y="255.58" text-anchor="end">1.55</text>
<text x="440.59999999999997" y="225.04" text-anchor="end">1.60</text>
<text x="440.59999999999997" y="194.50" text-anchor="end">1.65</text>
</g>
<text font-family="DejaVu Sans, Liberation Sans, sans-serif" font-size="8.1" fill="#000" stroke="#000" stroke-width="0.12" x="598.5" y="365.40" text-anchor="middle">Θ [deg]</text>
<text font-family="DejaVu Sans, Liberation Sans, sans-serif" font-size="8.1" fill="#000" stroke="#000" stroke-width="0.12" text-anchor="middle" transform="translate(419.4,268.05) rotate(-90)">mean <tspan font-style="italic">γ</tspan></text>
<text font-family="DejaVu Sans, Liberation Sans, sans-serif" font-size="25" font-weight="bold" x="447.4" y="330.7">(c)</text>
</svg>
</body></html>
